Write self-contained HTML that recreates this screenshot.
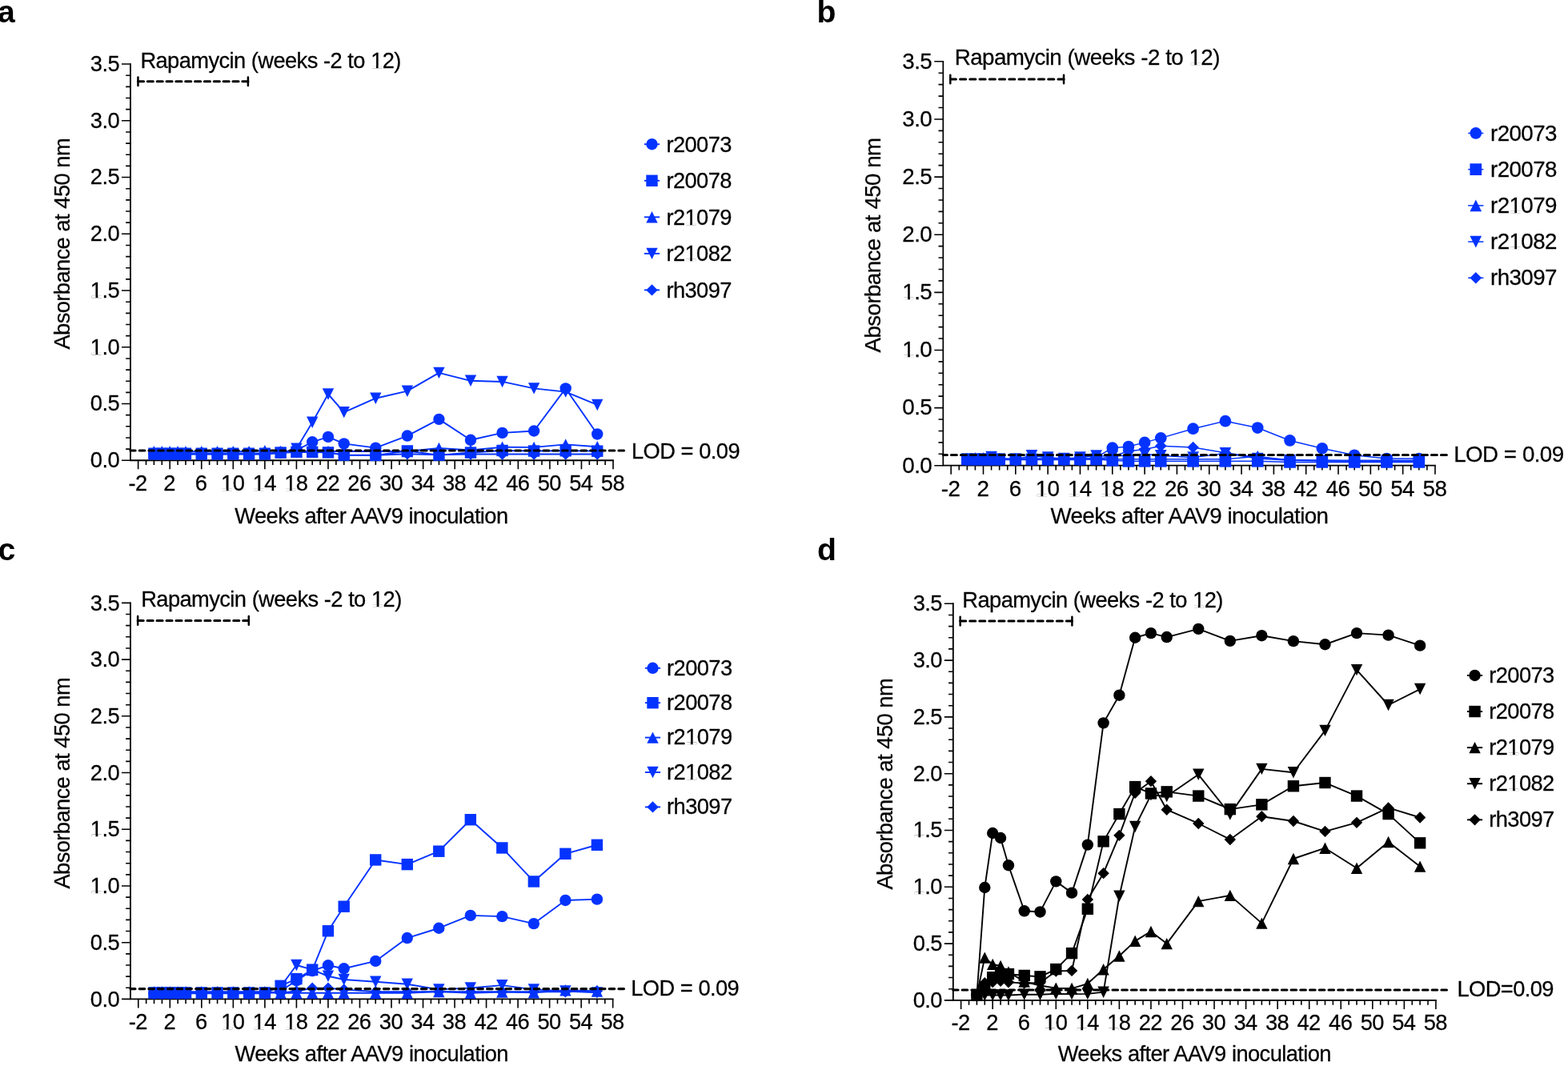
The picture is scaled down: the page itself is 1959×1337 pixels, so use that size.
<!DOCTYPE html>
<html><head><meta charset="utf-8"><title>Figure</title>
<style>
html,body{margin:0;padding:0;background:#fff;}
body{width:1959px;height:1337px;overflow:hidden;}
svg{display:block;position:absolute;left:0;top:0;}
text{font-family:"Liberation Sans",Arial,Helvetica,sans-serif;fill:#000;}
</style></head><body>
<svg xmlns="http://www.w3.org/2000/svg" width="1959" height="1337" viewBox="0 0 1959 1337">
<rect width="1959" height="1337" fill="#fff"/>
<g id="panel-a">
<text transform="translate(-3 27.8) scale(1.05)" font-size="37.33" font-weight="bold">a</text>
<path d="M162.97 80.05V575.27H766.02" fill="none" stroke="#000" stroke-width="1.85" stroke-linecap="square"/>
<path d="M162.97 575.27h-11M162.97 561.12h-5.8M162.97 546.97h-5.8M162.97 532.82h-5.8M162.97 518.67h-5.8M162.97 504.52h-11M162.97 490.38h-5.8M162.97 476.23h-5.8M162.97 462.08h-5.8M162.97 447.93h-5.8M162.97 433.78h-11M162.97 419.63h-5.8M162.97 405.48h-5.8M162.97 391.33h-5.8M162.97 377.18h-5.8M162.97 363.03h-11M162.97 348.89h-5.8M162.97 334.74h-5.8M162.97 320.59h-5.8M162.97 306.44h-5.8M162.97 292.29h-11M162.97 278.14h-5.8M162.97 263.99h-5.8M162.97 249.84h-5.8M162.97 235.69h-5.8M162.97 221.54h-11M162.97 207.4h-5.8M162.97 193.25h-5.8M162.97 179.1h-5.8M162.97 164.95h-5.8M162.97 150.8h-11M162.97 136.65h-5.8M162.97 122.5h-5.8M162.97 108.35h-5.8M162.97 94.2h-5.8M162.97 80.05h-11M172.62 575.27v11M182.51 575.27v5.8M192.4 575.27v5.8M202.29 575.27v5.8M212.18 575.27v11M222.07 575.27v5.8M231.96 575.27v5.8M241.85 575.27v5.8M251.74 575.27v11M261.63 575.27v5.8M271.52 575.27v5.8M281.41 575.27v5.8M291.3 575.27v11M301.19 575.27v5.8M311.08 575.27v5.8M320.97 575.27v5.8M330.86 575.27v11M340.75 575.27v5.8M350.64 575.27v5.8M360.53 575.27v5.8M370.42 575.27v11M380.31 575.27v5.8M390.2 575.27v5.8M400.09 575.27v5.8M409.98 575.27v11M419.87 575.27v5.8M429.76 575.27v5.8M439.65 575.27v5.8M449.54 575.27v11M459.43 575.27v5.8M469.32 575.27v5.8M479.21 575.27v5.8M489.1 575.27v11M498.99 575.27v5.8M508.88 575.27v5.8M518.77 575.27v5.8M528.66 575.27v11M538.55 575.27v5.8M548.44 575.27v5.8M558.33 575.27v5.8M568.22 575.27v11M578.11 575.27v5.8M588 575.27v5.8M597.89 575.27v5.8M607.78 575.27v11M617.67 575.27v5.8M627.56 575.27v5.8M637.45 575.27v5.8M647.34 575.27v11M657.23 575.27v5.8M667.12 575.27v5.8M677.01 575.27v5.8M686.9 575.27v11M696.79 575.27v5.8M706.68 575.27v5.8M716.57 575.27v5.8M726.46 575.27v11M736.35 575.27v5.8M746.24 575.27v5.8M756.13 575.27v5.8M766.02 575.27v11" fill="none" stroke="#000" stroke-width="1.6"/>
<polyline fill="none" stroke="#0433FF" stroke-width="1.9" stroke-linejoin="round" points="192.4,567.49 202.29,567.49 212.18,567.49 222.07,567.49 231.96,567.49 251.74,567.49 271.52,567.49 291.3,567.49 311.08,567.49 330.86,567.49 350.64,565.65 370.42,565.08 390.2,565.08 409.98,565.37 429.76,568.48 469.32,568.76 508.88,567.21 548.44,568.2 588,567.49 627.56,567.49 667.12,567.49 706.68,567.49 746.24,567.49"/>
<polygon points="192.4,560.29 199.6,567.49 192.4,574.69 185.2,567.49" fill="#0433FF"/>
<polygon points="202.29,560.29 209.49,567.49 202.29,574.69 195.09,567.49" fill="#0433FF"/>
<polygon points="212.18,560.29 219.38,567.49 212.18,574.69 204.98,567.49" fill="#0433FF"/>
<polygon points="222.07,560.29 229.27,567.49 222.07,574.69 214.87,567.49" fill="#0433FF"/>
<polygon points="231.96,560.29 239.16,567.49 231.96,574.69 224.76,567.49" fill="#0433FF"/>
<polygon points="251.74,560.29 258.94,567.49 251.74,574.69 244.54,567.49" fill="#0433FF"/>
<polygon points="271.52,560.29 278.72,567.49 271.52,574.69 264.32,567.49" fill="#0433FF"/>
<polygon points="291.3,560.29 298.5,567.49 291.3,574.69 284.1,567.49" fill="#0433FF"/>
<polygon points="311.08,560.29 318.28,567.49 311.08,574.69 303.88,567.49" fill="#0433FF"/>
<polygon points="330.86,560.29 338.06,567.49 330.86,574.69 323.66,567.49" fill="#0433FF"/>
<polygon points="350.64,558.45 357.84,565.65 350.64,572.85 343.44,565.65" fill="#0433FF"/>
<polygon points="370.42,557.88 377.62,565.08 370.42,572.28 363.22,565.08" fill="#0433FF"/>
<polygon points="390.2,557.88 397.4,565.08 390.2,572.28 383,565.08" fill="#0433FF"/>
<polygon points="409.98,558.17 417.18,565.37 409.98,572.57 402.78,565.37" fill="#0433FF"/>
<polygon points="429.76,561.28 436.96,568.48 429.76,575.68 422.56,568.48" fill="#0433FF"/>
<polygon points="469.32,561.56 476.52,568.76 469.32,575.96 462.12,568.76" fill="#0433FF"/>
<polygon points="508.88,560.01 516.08,567.21 508.88,574.41 501.68,567.21" fill="#0433FF"/>
<polygon points="548.44,561 555.64,568.2 548.44,575.4 541.24,568.2" fill="#0433FF"/>
<polygon points="588,560.29 595.2,567.49 588,574.69 580.8,567.49" fill="#0433FF"/>
<polygon points="627.56,560.29 634.76,567.49 627.56,574.69 620.36,567.49" fill="#0433FF"/>
<polygon points="667.12,560.29 674.32,567.49 667.12,574.69 659.92,567.49" fill="#0433FF"/>
<polygon points="706.68,560.29 713.88,567.49 706.68,574.69 699.48,567.49" fill="#0433FF"/>
<polygon points="746.24,560.29 753.44,567.49 746.24,574.69 739.04,567.49" fill="#0433FF"/>
<polyline fill="none" stroke="#0433FF" stroke-width="1.9" stroke-linejoin="round" points="192.4,566.78 202.29,566.78 212.18,566.78 222.07,566.78 231.96,566.78 251.74,566.78 271.52,566.78 291.3,566.78 311.08,566.78 330.86,566.78 350.64,566.07 370.42,560.63 390.2,527.8 409.98,492.5 429.76,515.14 469.32,497.73 508.88,488.68 548.44,465.9 588,475.8 627.56,476.93 667.12,485.42 706.68,489.67 746.24,505.94"/>
<polygon points="192.4,573.98 199.6,559.58 185.2,559.58" fill="#0433FF"/>
<polygon points="202.29,573.98 209.49,559.58 195.09,559.58" fill="#0433FF"/>
<polygon points="212.18,573.98 219.38,559.58 204.98,559.58" fill="#0433FF"/>
<polygon points="222.07,573.98 229.27,559.58 214.87,559.58" fill="#0433FF"/>
<polygon points="231.96,573.98 239.16,559.58 224.76,559.58" fill="#0433FF"/>
<polygon points="251.74,573.98 258.94,559.58 244.54,559.58" fill="#0433FF"/>
<polygon points="271.52,573.98 278.72,559.58 264.32,559.58" fill="#0433FF"/>
<polygon points="291.3,573.98 298.5,559.58 284.1,559.58" fill="#0433FF"/>
<polygon points="311.08,573.98 318.28,559.58 303.88,559.58" fill="#0433FF"/>
<polygon points="330.86,573.98 338.06,559.58 323.66,559.58" fill="#0433FF"/>
<polygon points="350.64,573.27 357.84,558.87 343.44,558.87" fill="#0433FF"/>
<polygon points="370.42,567.83 377.62,553.43 363.22,553.43" fill="#0433FF"/>
<polygon points="390.2,535 397.4,520.6 383,520.6" fill="#0433FF"/>
<polygon points="409.98,499.7 417.18,485.3 402.78,485.3" fill="#0433FF"/>
<polygon points="429.76,522.34 436.96,507.94 422.56,507.94" fill="#0433FF"/>
<polygon points="469.32,504.93 476.52,490.53 462.12,490.53" fill="#0433FF"/>
<polygon points="508.88,495.88 516.08,481.48 501.68,481.48" fill="#0433FF"/>
<polygon points="548.44,473.1 555.64,458.7 541.24,458.7" fill="#0433FF"/>
<polygon points="588,483 595.2,468.6 580.8,468.6" fill="#0433FF"/>
<polygon points="627.56,484.13 634.76,469.73 620.36,469.73" fill="#0433FF"/>
<polygon points="667.12,492.62 674.32,478.22 659.92,478.22" fill="#0433FF"/>
<polygon points="706.68,496.87 713.88,482.47 699.48,482.47" fill="#0433FF"/>
<polygon points="746.24,513.14 753.44,498.74 739.04,498.74" fill="#0433FF"/>
<polyline fill="none" stroke="#0433FF" stroke-width="1.9" stroke-linejoin="round" points="192.4,564.3 202.29,564.3 212.18,564.3 222.07,564.3 231.96,564.3 251.74,564.3 271.52,564.3 291.3,564.3 311.08,564.3 330.86,563.1 350.64,563.95 370.42,563.95 390.2,563.95 409.98,563.95 429.76,563.95 469.32,563.95 508.88,563.95 548.44,559.99 588,562.54 627.56,558.8 667.12,558.86 706.68,555.39 746.24,558.19"/>
<polygon points="192.4,557.1 199.6,571.5 185.2,571.5" fill="#0433FF"/>
<polygon points="202.29,557.1 209.49,571.5 195.09,571.5" fill="#0433FF"/>
<polygon points="212.18,557.1 219.38,571.5 204.98,571.5" fill="#0433FF"/>
<polygon points="222.07,557.1 229.27,571.5 214.87,571.5" fill="#0433FF"/>
<polygon points="231.96,557.1 239.16,571.5 224.76,571.5" fill="#0433FF"/>
<polygon points="251.74,557.1 258.94,571.5 244.54,571.5" fill="#0433FF"/>
<polygon points="271.52,557.1 278.72,571.5 264.32,571.5" fill="#0433FF"/>
<polygon points="291.3,557.1 298.5,571.5 284.1,571.5" fill="#0433FF"/>
<polygon points="311.08,557.1 318.28,571.5 303.88,571.5" fill="#0433FF"/>
<polygon points="330.86,555.9 338.06,570.3 323.66,570.3" fill="#0433FF"/>
<polygon points="350.64,556.75 357.84,571.15 343.44,571.15" fill="#0433FF"/>
<polygon points="370.42,556.75 377.62,571.15 363.22,571.15" fill="#0433FF"/>
<polygon points="390.2,556.75 397.4,571.15 383,571.15" fill="#0433FF"/>
<polygon points="409.98,556.75 417.18,571.15 402.78,571.15" fill="#0433FF"/>
<polygon points="429.76,556.75 436.96,571.15 422.56,571.15" fill="#0433FF"/>
<polygon points="469.32,556.75 476.52,571.15 462.12,571.15" fill="#0433FF"/>
<polygon points="508.88,556.75 516.08,571.15 501.68,571.15" fill="#0433FF"/>
<polygon points="548.44,552.79 555.64,567.19 541.24,567.19" fill="#0433FF"/>
<polygon points="588,555.34 595.2,569.74 580.8,569.74" fill="#0433FF"/>
<polygon points="627.56,551.6 634.76,566 620.36,566" fill="#0433FF"/>
<polygon points="667.12,551.66 674.32,566.06 659.92,566.06" fill="#0433FF"/>
<polygon points="706.68,548.19 713.88,562.59 699.48,562.59" fill="#0433FF"/>
<polygon points="746.24,550.99 753.44,565.39 739.04,565.39" fill="#0433FF"/>
<polyline fill="none" stroke="#0433FF" stroke-width="1.9" stroke-linejoin="round" points="192.4,567.4 202.29,567.4 212.18,567.4 222.07,567.4 231.96,567.4 251.74,567.4 271.52,567.4 291.3,567.4 311.08,567.4 330.86,567.4 350.64,565.65 370.42,564.73 390.2,564.8 409.98,565.37 429.76,568.62 469.32,568.9 508.88,563.46 548.44,568.62 588,565.51 627.56,562.96 667.12,563.53 706.68,563.24 746.24,563.67"/>
<rect x="185.2" y="560.2" width="14.4" height="14.4" fill="#0433FF"/>
<rect x="195.09" y="560.2" width="14.4" height="14.4" fill="#0433FF"/>
<rect x="204.98" y="560.2" width="14.4" height="14.4" fill="#0433FF"/>
<rect x="214.87" y="560.2" width="14.4" height="14.4" fill="#0433FF"/>
<rect x="224.76" y="560.2" width="14.4" height="14.4" fill="#0433FF"/>
<rect x="244.54" y="560.2" width="14.4" height="14.4" fill="#0433FF"/>
<rect x="264.32" y="560.2" width="14.4" height="14.4" fill="#0433FF"/>
<rect x="284.1" y="560.2" width="14.4" height="14.4" fill="#0433FF"/>
<rect x="303.88" y="560.2" width="14.4" height="14.4" fill="#0433FF"/>
<rect x="323.66" y="560.2" width="14.4" height="14.4" fill="#0433FF"/>
<rect x="343.44" y="558.45" width="14.4" height="14.4" fill="#0433FF"/>
<rect x="363.22" y="557.53" width="14.4" height="14.4" fill="#0433FF"/>
<rect x="383" y="557.6" width="14.4" height="14.4" fill="#0433FF"/>
<rect x="402.78" y="558.17" width="14.4" height="14.4" fill="#0433FF"/>
<rect x="422.56" y="561.42" width="14.4" height="14.4" fill="#0433FF"/>
<rect x="462.12" y="561.7" width="14.4" height="14.4" fill="#0433FF"/>
<rect x="501.68" y="556.26" width="14.4" height="14.4" fill="#0433FF"/>
<rect x="541.24" y="561.42" width="14.4" height="14.4" fill="#0433FF"/>
<rect x="580.8" y="558.31" width="14.4" height="14.4" fill="#0433FF"/>
<rect x="620.36" y="555.76" width="14.4" height="14.4" fill="#0433FF"/>
<rect x="659.92" y="556.33" width="14.4" height="14.4" fill="#0433FF"/>
<rect x="699.48" y="556.04" width="14.4" height="14.4" fill="#0433FF"/>
<rect x="739.04" y="556.47" width="14.4" height="14.4" fill="#0433FF"/>
<polyline fill="none" stroke="#0433FF" stroke-width="1.9" stroke-linejoin="round" points="192.4,566.78 202.29,566.78 212.18,566.78 222.07,566.78 231.96,566.78 251.74,566.78 271.52,566.78 291.3,566.78 311.08,566.78 330.86,566.78 350.64,565.37 370.42,562.54 390.2,552.28 409.98,545.9 429.76,554.33 469.32,559.61 508.88,544.57 548.44,523.84 588,549.8 627.56,540.89 667.12,538.48 706.68,485.42 746.24,542.44"/>
<circle cx="192.4" cy="566.78" r="7.2" fill="#0433FF"/>
<circle cx="202.29" cy="566.78" r="7.2" fill="#0433FF"/>
<circle cx="212.18" cy="566.78" r="7.2" fill="#0433FF"/>
<circle cx="222.07" cy="566.78" r="7.2" fill="#0433FF"/>
<circle cx="231.96" cy="566.78" r="7.2" fill="#0433FF"/>
<circle cx="251.74" cy="566.78" r="7.2" fill="#0433FF"/>
<circle cx="271.52" cy="566.78" r="7.2" fill="#0433FF"/>
<circle cx="291.3" cy="566.78" r="7.2" fill="#0433FF"/>
<circle cx="311.08" cy="566.78" r="7.2" fill="#0433FF"/>
<circle cx="330.86" cy="566.78" r="7.2" fill="#0433FF"/>
<circle cx="350.64" cy="565.37" r="7.2" fill="#0433FF"/>
<circle cx="370.42" cy="562.54" r="7.2" fill="#0433FF"/>
<circle cx="390.2" cy="552.28" r="7.2" fill="#0433FF"/>
<circle cx="409.98" cy="545.9" r="7.2" fill="#0433FF"/>
<circle cx="429.76" cy="554.33" r="7.2" fill="#0433FF"/>
<circle cx="469.32" cy="559.61" r="7.2" fill="#0433FF"/>
<circle cx="508.88" cy="544.57" r="7.2" fill="#0433FF"/>
<circle cx="548.44" cy="523.84" r="7.2" fill="#0433FF"/>
<circle cx="588" cy="549.8" r="7.2" fill="#0433FF"/>
<circle cx="627.56" cy="540.89" r="7.2" fill="#0433FF"/>
<circle cx="667.12" cy="538.48" r="7.2" fill="#0433FF"/>
<circle cx="706.68" cy="485.42" r="7.2" fill="#0433FF"/>
<circle cx="746.24" cy="542.44" r="7.2" fill="#0433FF"/>
<text transform="translate(148.4 584.07) scale(1.05 1.05)" text-anchor="end" dx="0.57" font-size="26" letter-spacing="-0.571" word-spacing="0.286" stroke="#000" stroke-width="0.24">0.0</text>
<text transform="translate(148.4 513.32) scale(1.05 1.05)" text-anchor="end" dx="0.57" font-size="26" letter-spacing="-0.571" word-spacing="0.286" stroke="#000" stroke-width="0.24">0.5</text>
<text transform="translate(148.4 442.58) scale(1.05 1.05)" text-anchor="end" dx="0.57" font-size="26" letter-spacing="-0.571" word-spacing="0.286" stroke="#000" stroke-width="0.24">1.0</text>
<text transform="translate(148.4 371.83) scale(1.05 1.05)" text-anchor="end" dx="0.57" font-size="26" letter-spacing="-0.571" word-spacing="0.286" stroke="#000" stroke-width="0.24">1.5</text>
<text transform="translate(148.4 301.09) scale(1.05 1.05)" text-anchor="end" dx="0.57" font-size="26" letter-spacing="-0.571" word-spacing="0.286" stroke="#000" stroke-width="0.24">2.0</text>
<text transform="translate(148.4 230.34) scale(1.05 1.05)" text-anchor="end" dx="0.57" font-size="26" letter-spacing="-0.571" word-spacing="0.286" stroke="#000" stroke-width="0.24">2.5</text>
<text transform="translate(148.4 159.6) scale(1.05 1.05)" text-anchor="end" dx="0.57" font-size="26" letter-spacing="-0.571" word-spacing="0.286" stroke="#000" stroke-width="0.24">3.0</text>
<text transform="translate(148.4 88.85) scale(1.05 1.05)" text-anchor="end" dx="0.57" font-size="26" letter-spacing="-0.571" word-spacing="0.286" stroke="#000" stroke-width="0.24">3.5</text>
<text transform="translate(171.72 613) scale(1.05 1.05)" text-anchor="middle" dx="0.29" font-size="26" letter-spacing="-0.571" word-spacing="0.286" stroke="#000" stroke-width="0.24">-2</text>
<text transform="translate(211.28 613) scale(1.05 1.05)" text-anchor="middle" dx="0.29" font-size="26" letter-spacing="-0.571" word-spacing="0.286" stroke="#000" stroke-width="0.24">2</text>
<text transform="translate(250.84 613) scale(1.05 1.05)" text-anchor="middle" dx="0.29" font-size="26" letter-spacing="-0.571" word-spacing="0.286" stroke="#000" stroke-width="0.24">6</text>
<text transform="translate(290.4 613) scale(1.05 1.05)" text-anchor="middle" dx="0.29" font-size="26" letter-spacing="-0.571" word-spacing="0.286" stroke="#000" stroke-width="0.24">10</text>
<text transform="translate(329.96 613) scale(1.05 1.05)" text-anchor="middle" dx="0.29" font-size="26" letter-spacing="-0.571" word-spacing="0.286" stroke="#000" stroke-width="0.24">14</text>
<text transform="translate(369.52 613) scale(1.05 1.05)" text-anchor="middle" dx="0.29" font-size="26" letter-spacing="-0.571" word-spacing="0.286" stroke="#000" stroke-width="0.24">18</text>
<text transform="translate(409.08 613) scale(1.05 1.05)" text-anchor="middle" dx="0.29" font-size="26" letter-spacing="-0.571" word-spacing="0.286" stroke="#000" stroke-width="0.24">22</text>
<text transform="translate(448.64 613) scale(1.05 1.05)" text-anchor="middle" dx="0.29" font-size="26" letter-spacing="-0.571" word-spacing="0.286" stroke="#000" stroke-width="0.24">26</text>
<text transform="translate(488.2 613) scale(1.05 1.05)" text-anchor="middle" dx="0.29" font-size="26" letter-spacing="-0.571" word-spacing="0.286" stroke="#000" stroke-width="0.24">30</text>
<text transform="translate(527.76 613) scale(1.05 1.05)" text-anchor="middle" dx="0.29" font-size="26" letter-spacing="-0.571" word-spacing="0.286" stroke="#000" stroke-width="0.24">34</text>
<text transform="translate(567.32 613) scale(1.05 1.05)" text-anchor="middle" dx="0.29" font-size="26" letter-spacing="-0.571" word-spacing="0.286" stroke="#000" stroke-width="0.24">38</text>
<text transform="translate(606.88 613) scale(1.05 1.05)" text-anchor="middle" dx="0.29" font-size="26" letter-spacing="-0.571" word-spacing="0.286" stroke="#000" stroke-width="0.24">42</text>
<text transform="translate(646.44 613) scale(1.05 1.05)" text-anchor="middle" dx="0.29" font-size="26" letter-spacing="-0.571" word-spacing="0.286" stroke="#000" stroke-width="0.24">46</text>
<text transform="translate(686 613) scale(1.05 1.05)" text-anchor="middle" dx="0.29" font-size="26" letter-spacing="-0.571" word-spacing="0.286" stroke="#000" stroke-width="0.24">50</text>
<text transform="translate(725.56 613) scale(1.05 1.05)" text-anchor="middle" dx="0.29" font-size="26" letter-spacing="-0.571" word-spacing="0.286" stroke="#000" stroke-width="0.24">54</text>
<text transform="translate(765.12 613) scale(1.05 1.05)" text-anchor="middle" dx="0.29" font-size="26" letter-spacing="-0.571" word-spacing="0.286" stroke="#000" stroke-width="0.24">58</text>
<text transform="translate(463.6 653.6) scale(1.05 1.05)" text-anchor="middle" dx="0.29" font-size="26" letter-spacing="-0.571" word-spacing="0.286" stroke="#000" stroke-width="0.24">Weeks after AAV9 inoculation</text>
<text transform="translate(87.1 305) rotate(-90) scale(1.05 1.05)" text-anchor="middle" dx="0.29" font-size="26" letter-spacing="-0.571" word-spacing="0.286" stroke="#000" stroke-width="0.24">Absorbance at 450 nm</text>
<text transform="translate(175.4 84.75) scale(1.05 1.05)" font-size="26" letter-spacing="-0.571" word-spacing="0.286" stroke="#000" stroke-width="0.24">Rapamycin (weeks -2 to 12)</text>
<path d="M172.45 96.4v10.7M309.9 96.4v10.7" stroke="#000" stroke-width="2.5" stroke-linecap="round" fill="none"/>
<path d="M309.9 101.75H172.45" stroke="#000" stroke-width="3" stroke-linecap="round" stroke-dasharray="7.1 4.75" fill="none"/>
<path d="M779.5 563H162.97" stroke="#000" stroke-width="3.2" stroke-linecap="round" stroke-dasharray="6.5 5.24" fill="none"/>
<text transform="translate(789 572.5) scale(1.05 1.05)" font-size="26" letter-spacing="-0.571" word-spacing="0.286" stroke="#000" stroke-width="0.24">LOD = 0.09</text>
<path d="M804.9 180.2h19.2" stroke="#0433FF" stroke-width="1.9" fill="none"/>
<circle cx="814.5" cy="180.2" r="7.2" fill="#0433FF"/>
<text transform="translate(832.4 189.6) scale(1.05 1.05)" font-size="26" letter-spacing="-0.571" word-spacing="0.286" stroke="#000" stroke-width="0.24">r20073</text>
<path d="M804.9 225.75h19.2" stroke="#0433FF" stroke-width="1.9" fill="none"/>
<rect x="807.3" y="218.55" width="14.4" height="14.4" fill="#0433FF"/>
<text transform="translate(832.4 235.15) scale(1.05 1.05)" font-size="26" letter-spacing="-0.571" word-spacing="0.286" stroke="#000" stroke-width="0.24">r20078</text>
<path d="M804.9 271.3h19.2" stroke="#0433FF" stroke-width="1.9" fill="none"/>
<polygon points="814.5,264.1 821.7,278.5 807.3,278.5" fill="#0433FF"/>
<text transform="translate(832.4 280.7) scale(1.05 1.05)" font-size="26" letter-spacing="-0.571" word-spacing="0.286" stroke="#000" stroke-width="0.24">r21079</text>
<path d="M804.9 316.85h19.2" stroke="#0433FF" stroke-width="1.9" fill="none"/>
<polygon points="814.5,324.05 821.7,309.65 807.3,309.65" fill="#0433FF"/>
<text transform="translate(832.4 326.25) scale(1.05 1.05)" font-size="26" letter-spacing="-0.571" word-spacing="0.286" stroke="#000" stroke-width="0.24">r21082</text>
<path d="M804.9 362.4h19.2" stroke="#0433FF" stroke-width="1.9" fill="none"/>
<polygon points="814.5,355.2 821.7,362.4 814.5,369.6 807.3,362.4" fill="#0433FF"/>
<text transform="translate(832.4 371.8) scale(1.05 1.05)" font-size="26" letter-spacing="-0.571" word-spacing="0.286" stroke="#000" stroke-width="0.24">rh3097</text>
</g>
<g id="panel-b">
<text transform="translate(1020.4 27.6) scale(1.05)" font-size="37.33" font-weight="bold">b</text>
<path d="M1178.32 76.82V581.73H1792.98" fill="none" stroke="#000" stroke-width="1.75" stroke-linecap="square"/>
<path d="M1178.32 581.73h-11M1178.32 567.3h-5.8M1178.32 552.88h-5.8M1178.32 538.45h-5.8M1178.32 524.03h-5.8M1178.32 509.6h-11M1178.32 495.17h-5.8M1178.32 480.75h-5.8M1178.32 466.32h-5.8M1178.32 451.9h-5.8M1178.32 437.47h-11M1178.32 423.04h-5.8M1178.32 408.62h-5.8M1178.32 394.19h-5.8M1178.32 379.77h-5.8M1178.32 365.34h-11M1178.32 350.91h-5.8M1178.32 336.49h-5.8M1178.32 322.06h-5.8M1178.32 307.64h-5.8M1178.32 293.21h-11M1178.32 278.78h-5.8M1178.32 264.36h-5.8M1178.32 249.93h-5.8M1178.32 235.51h-5.8M1178.32 221.08h-11M1178.32 206.65h-5.8M1178.32 192.23h-5.8M1178.32 177.8h-5.8M1178.32 163.38h-5.8M1178.32 148.95h-11M1178.32 134.52h-5.8M1178.32 120.1h-5.8M1178.32 105.67h-5.8M1178.32 91.25h-5.8M1178.32 76.82h-11M1188.18 581.73v11M1198.26 581.73v5.8M1208.34 581.73v5.8M1218.42 581.73v5.8M1228.5 581.73v11M1238.58 581.73v5.8M1248.66 581.73v5.8M1258.74 581.73v5.8M1268.82 581.73v11M1278.9 581.73v5.8M1288.98 581.73v5.8M1299.06 581.73v5.8M1309.14 581.73v11M1319.22 581.73v5.8M1329.3 581.73v5.8M1339.38 581.73v5.8M1349.46 581.73v11M1359.54 581.73v5.8M1369.62 581.73v5.8M1379.7 581.73v5.8M1389.78 581.73v11M1399.86 581.73v5.8M1409.94 581.73v5.8M1420.02 581.73v5.8M1430.1 581.73v11M1440.18 581.73v5.8M1450.26 581.73v5.8M1460.34 581.73v5.8M1470.42 581.73v11M1480.5 581.73v5.8M1490.58 581.73v5.8M1500.66 581.73v5.8M1510.74 581.73v11M1520.82 581.73v5.8M1530.9 581.73v5.8M1540.98 581.73v5.8M1551.06 581.73v11M1561.14 581.73v5.8M1571.22 581.73v5.8M1581.3 581.73v5.8M1591.38 581.73v11M1601.46 581.73v5.8M1611.54 581.73v5.8M1621.62 581.73v5.8M1631.7 581.73v11M1641.78 581.73v5.8M1651.86 581.73v5.8M1661.94 581.73v5.8M1672.02 581.73v11M1682.1 581.73v5.8M1692.18 581.73v5.8M1702.26 581.73v5.8M1712.34 581.73v11M1722.42 581.73v5.8M1732.5 581.73v5.8M1742.58 581.73v5.8M1752.66 581.73v11M1762.74 581.73v5.8M1772.82 581.73v5.8M1782.9 581.73v5.8M1792.98 581.73v11" fill="none" stroke="#000" stroke-width="1.6"/>
<polyline fill="none" stroke="#0433FF" stroke-width="1.5" stroke-linejoin="round" points="1208.34,573.8 1218.42,573.8 1228.5,573.8 1238.58,573.8 1248.66,573.8 1268.82,573.8 1288.98,573.8 1309.14,573.8 1329.3,573.8 1349.46,573.8 1369.62,573.8 1389.78,570.19 1409.94,563.7 1430.1,561.53 1450.26,557.21 1490.58,559.01 1530.9,565.86 1571.22,571.63 1611.54,574.52 1651.86,575.24 1692.18,575.96 1732.5,575.96 1772.82,575.96"/>
<polygon points="1208.34,566.45 1215.69,573.8 1208.34,581.15 1200.99,573.8" fill="#0433FF"/>
<polygon points="1218.42,566.45 1225.77,573.8 1218.42,581.15 1211.07,573.8" fill="#0433FF"/>
<polygon points="1228.5,566.45 1235.85,573.8 1228.5,581.15 1221.15,573.8" fill="#0433FF"/>
<polygon points="1238.58,566.45 1245.93,573.8 1238.58,581.15 1231.23,573.8" fill="#0433FF"/>
<polygon points="1248.66,566.45 1256.01,573.8 1248.66,581.15 1241.31,573.8" fill="#0433FF"/>
<polygon points="1268.82,566.45 1276.17,573.8 1268.82,581.15 1261.47,573.8" fill="#0433FF"/>
<polygon points="1288.98,566.45 1296.33,573.8 1288.98,581.15 1281.63,573.8" fill="#0433FF"/>
<polygon points="1309.14,566.45 1316.49,573.8 1309.14,581.15 1301.79,573.8" fill="#0433FF"/>
<polygon points="1329.3,566.45 1336.65,573.8 1329.3,581.15 1321.95,573.8" fill="#0433FF"/>
<polygon points="1349.46,566.45 1356.81,573.8 1349.46,581.15 1342.11,573.8" fill="#0433FF"/>
<polygon points="1369.62,566.45 1376.97,573.8 1369.62,581.15 1362.27,573.8" fill="#0433FF"/>
<polygon points="1389.78,562.84 1397.13,570.19 1389.78,577.54 1382.43,570.19" fill="#0433FF"/>
<polygon points="1409.94,556.35 1417.29,563.7 1409.94,571.05 1402.59,563.7" fill="#0433FF"/>
<polygon points="1430.1,554.18 1437.45,561.53 1430.1,568.88 1422.75,561.53" fill="#0433FF"/>
<polygon points="1450.26,549.86 1457.61,557.21 1450.26,564.56 1442.91,557.21" fill="#0433FF"/>
<polygon points="1490.58,551.66 1497.93,559.01 1490.58,566.36 1483.23,559.01" fill="#0433FF"/>
<polygon points="1530.9,558.51 1538.25,565.86 1530.9,573.21 1523.55,565.86" fill="#0433FF"/>
<polygon points="1571.22,564.28 1578.57,571.63 1571.22,578.98 1563.87,571.63" fill="#0433FF"/>
<polygon points="1611.54,567.17 1618.89,574.52 1611.54,581.87 1604.19,574.52" fill="#0433FF"/>
<polygon points="1651.86,567.89 1659.21,575.24 1651.86,582.59 1644.51,575.24" fill="#0433FF"/>
<polygon points="1692.18,568.61 1699.53,575.96 1692.18,583.31 1684.83,575.96" fill="#0433FF"/>
<polygon points="1732.5,568.61 1739.85,575.96 1732.5,583.31 1725.15,575.96" fill="#0433FF"/>
<polygon points="1772.82,568.61 1780.17,575.96 1772.82,583.31 1765.47,575.96" fill="#0433FF"/>
<polyline fill="none" stroke="#0433FF" stroke-width="1.5" stroke-linejoin="round" points="1208.34,573.8 1218.42,573.8 1228.5,573.8 1238.58,571.2 1248.66,573.8 1268.82,573.8 1288.98,569.4 1309.14,571.63 1329.3,573.07 1349.46,571.63 1369.62,569.61 1389.78,570.19 1409.94,568.75 1430.1,567.3 1450.26,569.32 1490.58,571.63 1530.9,566.29 1571.22,573.07 1611.54,575.24 1651.86,575.96 1692.18,575.96 1732.5,575.96 1772.82,575.96"/>
<polygon points="1208.34,581.15 1215.69,566.45 1200.99,566.45" fill="#0433FF"/>
<polygon points="1218.42,581.15 1225.77,566.45 1211.07,566.45" fill="#0433FF"/>
<polygon points="1228.5,581.15 1235.85,566.45 1221.15,566.45" fill="#0433FF"/>
<polygon points="1238.58,578.55 1245.93,563.85 1231.23,563.85" fill="#0433FF"/>
<polygon points="1248.66,581.15 1256.01,566.45 1241.31,566.45" fill="#0433FF"/>
<polygon points="1268.82,581.15 1276.17,566.45 1261.47,566.45" fill="#0433FF"/>
<polygon points="1288.98,576.75 1296.33,562.05 1281.63,562.05" fill="#0433FF"/>
<polygon points="1309.14,578.98 1316.49,564.28 1301.79,564.28" fill="#0433FF"/>
<polygon points="1329.3,580.42 1336.65,565.72 1321.95,565.72" fill="#0433FF"/>
<polygon points="1349.46,578.98 1356.81,564.28 1342.11,564.28" fill="#0433FF"/>
<polygon points="1369.62,576.96 1376.97,562.26 1362.27,562.26" fill="#0433FF"/>
<polygon points="1389.78,577.54 1397.13,562.84 1382.43,562.84" fill="#0433FF"/>
<polygon points="1409.94,576.1 1417.29,561.4 1402.59,561.4" fill="#0433FF"/>
<polygon points="1430.1,574.65 1437.45,559.95 1422.75,559.95" fill="#0433FF"/>
<polygon points="1450.26,576.67 1457.61,561.97 1442.91,561.97" fill="#0433FF"/>
<polygon points="1490.58,578.98 1497.93,564.28 1483.23,564.28" fill="#0433FF"/>
<polygon points="1530.9,573.64 1538.25,558.94 1523.55,558.94" fill="#0433FF"/>
<polygon points="1571.22,580.42 1578.57,565.72 1563.87,565.72" fill="#0433FF"/>
<polygon points="1611.54,582.59 1618.89,567.89 1604.19,567.89" fill="#0433FF"/>
<polygon points="1651.86,583.31 1659.21,568.61 1644.51,568.61" fill="#0433FF"/>
<polygon points="1692.18,583.31 1699.53,568.61 1684.83,568.61" fill="#0433FF"/>
<polygon points="1732.5,583.31 1739.85,568.61 1725.15,568.61" fill="#0433FF"/>
<polygon points="1772.82,583.31 1780.17,568.61 1765.47,568.61" fill="#0433FF"/>
<polyline fill="none" stroke="#0433FF" stroke-width="1.5" stroke-linejoin="round" points="1208.34,573.07 1218.42,572.35 1228.5,572.35 1238.58,573.07 1248.66,573.07 1268.82,573.07 1288.98,573.07 1309.14,573.07 1329.3,573.07 1349.46,573.07 1369.62,573.07 1389.78,573.8 1409.94,573.8 1430.1,573.8 1450.26,573.8 1490.58,573.8 1530.9,573.8 1571.22,570.19 1611.54,575.24 1651.86,575.24 1692.18,575.24 1732.5,575.24 1772.82,575.24"/>
<polygon points="1208.34,565.72 1215.69,580.42 1200.99,580.42" fill="#0433FF"/>
<polygon points="1218.42,565 1225.77,579.7 1211.07,579.7" fill="#0433FF"/>
<polygon points="1228.5,565 1235.85,579.7 1221.15,579.7" fill="#0433FF"/>
<polygon points="1238.58,565.72 1245.93,580.42 1231.23,580.42" fill="#0433FF"/>
<polygon points="1248.66,565.72 1256.01,580.42 1241.31,580.42" fill="#0433FF"/>
<polygon points="1268.82,565.72 1276.17,580.42 1261.47,580.42" fill="#0433FF"/>
<polygon points="1288.98,565.72 1296.33,580.42 1281.63,580.42" fill="#0433FF"/>
<polygon points="1309.14,565.72 1316.49,580.42 1301.79,580.42" fill="#0433FF"/>
<polygon points="1329.3,565.72 1336.65,580.42 1321.95,580.42" fill="#0433FF"/>
<polygon points="1349.46,565.72 1356.81,580.42 1342.11,580.42" fill="#0433FF"/>
<polygon points="1369.62,565.72 1376.97,580.42 1362.27,580.42" fill="#0433FF"/>
<polygon points="1389.78,566.45 1397.13,581.15 1382.43,581.15" fill="#0433FF"/>
<polygon points="1409.94,566.45 1417.29,581.15 1402.59,581.15" fill="#0433FF"/>
<polygon points="1430.1,566.45 1437.45,581.15 1422.75,581.15" fill="#0433FF"/>
<polygon points="1450.26,566.45 1457.61,581.15 1442.91,581.15" fill="#0433FF"/>
<polygon points="1490.58,566.45 1497.93,581.15 1483.23,581.15" fill="#0433FF"/>
<polygon points="1530.9,566.45 1538.25,581.15 1523.55,581.15" fill="#0433FF"/>
<polygon points="1571.22,562.84 1578.57,577.54 1563.87,577.54" fill="#0433FF"/>
<polygon points="1611.54,567.89 1618.89,582.59 1604.19,582.59" fill="#0433FF"/>
<polygon points="1651.86,567.89 1659.21,582.59 1644.51,582.59" fill="#0433FF"/>
<polygon points="1692.18,567.89 1699.53,582.59 1684.83,582.59" fill="#0433FF"/>
<polygon points="1732.5,567.89 1739.85,582.59 1725.15,582.59" fill="#0433FF"/>
<polygon points="1772.82,567.89 1780.17,582.59 1765.47,582.59" fill="#0433FF"/>
<polyline fill="none" stroke="#0433FF" stroke-width="1.5" stroke-linejoin="round" points="1208.34,573.94 1218.42,573.94 1228.5,573.94 1238.58,573.94 1248.66,573.94 1268.82,573.94 1288.98,573.94 1309.14,573.94 1329.3,573.94 1349.46,573.94 1369.62,573.94 1389.78,575.24 1409.94,576.25 1430.1,576.25 1450.26,576.25 1490.58,576.25 1530.9,576.25 1571.22,576.25 1611.54,577.4 1651.86,577.4 1692.18,577.4 1732.5,577.4 1772.82,577.4"/>
<rect x="1200.99" y="566.59" width="14.7" height="14.7" fill="#0433FF"/>
<rect x="1211.07" y="566.59" width="14.7" height="14.7" fill="#0433FF"/>
<rect x="1221.15" y="566.59" width="14.7" height="14.7" fill="#0433FF"/>
<rect x="1231.23" y="566.59" width="14.7" height="14.7" fill="#0433FF"/>
<rect x="1241.31" y="566.59" width="14.7" height="14.7" fill="#0433FF"/>
<rect x="1261.47" y="566.59" width="14.7" height="14.7" fill="#0433FF"/>
<rect x="1281.63" y="566.59" width="14.7" height="14.7" fill="#0433FF"/>
<rect x="1301.79" y="566.59" width="14.7" height="14.7" fill="#0433FF"/>
<rect x="1321.95" y="566.59" width="14.7" height="14.7" fill="#0433FF"/>
<rect x="1342.11" y="566.59" width="14.7" height="14.7" fill="#0433FF"/>
<rect x="1362.27" y="566.59" width="14.7" height="14.7" fill="#0433FF"/>
<rect x="1382.43" y="567.89" width="14.7" height="14.7" fill="#0433FF"/>
<rect x="1402.59" y="568.9" width="14.7" height="14.7" fill="#0433FF"/>
<rect x="1422.75" y="568.9" width="14.7" height="14.7" fill="#0433FF"/>
<rect x="1442.91" y="568.9" width="14.7" height="14.7" fill="#0433FF"/>
<rect x="1483.23" y="568.9" width="14.7" height="14.7" fill="#0433FF"/>
<rect x="1523.55" y="568.9" width="14.7" height="14.7" fill="#0433FF"/>
<rect x="1563.87" y="568.9" width="14.7" height="14.7" fill="#0433FF"/>
<rect x="1604.19" y="570.05" width="14.7" height="14.7" fill="#0433FF"/>
<rect x="1644.51" y="570.05" width="14.7" height="14.7" fill="#0433FF"/>
<rect x="1684.83" y="570.05" width="14.7" height="14.7" fill="#0433FF"/>
<rect x="1725.15" y="570.05" width="14.7" height="14.7" fill="#0433FF"/>
<rect x="1765.47" y="570.05" width="14.7" height="14.7" fill="#0433FF"/>
<polyline fill="none" stroke="#0433FF" stroke-width="1.5" stroke-linejoin="round" points="1208.34,574.52 1218.42,574.52 1228.5,574.52 1238.58,574.52 1248.66,574.52 1268.82,574.52 1288.98,574.52 1309.14,574.52 1329.3,574.52 1349.46,574.52 1369.62,571.63 1389.78,559.66 1409.94,558.07 1430.1,552.88 1450.26,547.4 1490.58,535.71 1530.9,526.19 1571.22,534.56 1611.54,550.43 1651.86,560.24 1692.18,568.75 1732.5,573.07 1772.82,573.07"/>
<circle cx="1208.34" cy="574.52" r="7.35" fill="#0433FF"/>
<circle cx="1218.42" cy="574.52" r="7.35" fill="#0433FF"/>
<circle cx="1228.5" cy="574.52" r="7.35" fill="#0433FF"/>
<circle cx="1238.58" cy="574.52" r="7.35" fill="#0433FF"/>
<circle cx="1248.66" cy="574.52" r="7.35" fill="#0433FF"/>
<circle cx="1268.82" cy="574.52" r="7.35" fill="#0433FF"/>
<circle cx="1288.98" cy="574.52" r="7.35" fill="#0433FF"/>
<circle cx="1309.14" cy="574.52" r="7.35" fill="#0433FF"/>
<circle cx="1329.3" cy="574.52" r="7.35" fill="#0433FF"/>
<circle cx="1349.46" cy="574.52" r="7.35" fill="#0433FF"/>
<circle cx="1369.62" cy="571.63" r="7.35" fill="#0433FF"/>
<circle cx="1389.78" cy="559.66" r="7.35" fill="#0433FF"/>
<circle cx="1409.94" cy="558.07" r="7.35" fill="#0433FF"/>
<circle cx="1430.1" cy="552.88" r="7.35" fill="#0433FF"/>
<circle cx="1450.26" cy="547.4" r="7.35" fill="#0433FF"/>
<circle cx="1490.58" cy="535.71" r="7.35" fill="#0433FF"/>
<circle cx="1530.9" cy="526.19" r="7.35" fill="#0433FF"/>
<circle cx="1571.22" cy="534.56" r="7.35" fill="#0433FF"/>
<circle cx="1611.54" cy="550.43" r="7.35" fill="#0433FF"/>
<circle cx="1651.86" cy="560.24" r="7.35" fill="#0433FF"/>
<circle cx="1692.18" cy="568.75" r="7.35" fill="#0433FF"/>
<circle cx="1732.5" cy="573.07" r="7.35" fill="#0433FF"/>
<circle cx="1772.82" cy="573.07" r="7.35" fill="#0433FF"/>
<text transform="translate(1163.5 590.53) scale(1.05 1.05)" text-anchor="end" dx="0.58" font-size="26.45" letter-spacing="-0.581" word-spacing="0.291" stroke="#000" stroke-width="0.24">0.0</text>
<text transform="translate(1163.5 518.4) scale(1.05 1.05)" text-anchor="end" dx="0.58" font-size="26.45" letter-spacing="-0.581" word-spacing="0.291" stroke="#000" stroke-width="0.24">0.5</text>
<text transform="translate(1163.5 446.27) scale(1.05 1.05)" text-anchor="end" dx="0.58" font-size="26.45" letter-spacing="-0.581" word-spacing="0.291" stroke="#000" stroke-width="0.24">1.0</text>
<text transform="translate(1163.5 374.14) scale(1.05 1.05)" text-anchor="end" dx="0.58" font-size="26.45" letter-spacing="-0.581" word-spacing="0.291" stroke="#000" stroke-width="0.24">1.5</text>
<text transform="translate(1163.5 302.01) scale(1.05 1.05)" text-anchor="end" dx="0.58" font-size="26.45" letter-spacing="-0.581" word-spacing="0.291" stroke="#000" stroke-width="0.24">2.0</text>
<text transform="translate(1163.5 229.88) scale(1.05 1.05)" text-anchor="end" dx="0.58" font-size="26.45" letter-spacing="-0.581" word-spacing="0.291" stroke="#000" stroke-width="0.24">2.5</text>
<text transform="translate(1163.5 157.75) scale(1.05 1.05)" text-anchor="end" dx="0.58" font-size="26.45" letter-spacing="-0.581" word-spacing="0.291" stroke="#000" stroke-width="0.24">3.0</text>
<text transform="translate(1163.5 85.62) scale(1.05 1.05)" text-anchor="end" dx="0.58" font-size="26.45" letter-spacing="-0.581" word-spacing="0.291" stroke="#000" stroke-width="0.24">3.5</text>
<text transform="translate(1187.28 620) scale(1.05 1.05)" text-anchor="middle" dx="0.29" font-size="26.45" letter-spacing="-0.581" word-spacing="0.291" stroke="#000" stroke-width="0.24">-2</text>
<text transform="translate(1227.6 620) scale(1.05 1.05)" text-anchor="middle" dx="0.29" font-size="26.45" letter-spacing="-0.581" word-spacing="0.291" stroke="#000" stroke-width="0.24">2</text>
<text transform="translate(1267.92 620) scale(1.05 1.05)" text-anchor="middle" dx="0.29" font-size="26.45" letter-spacing="-0.581" word-spacing="0.291" stroke="#000" stroke-width="0.24">6</text>
<text transform="translate(1308.24 620) scale(1.05 1.05)" text-anchor="middle" dx="0.29" font-size="26.45" letter-spacing="-0.581" word-spacing="0.291" stroke="#000" stroke-width="0.24">10</text>
<text transform="translate(1348.56 620) scale(1.05 1.05)" text-anchor="middle" dx="0.29" font-size="26.45" letter-spacing="-0.581" word-spacing="0.291" stroke="#000" stroke-width="0.24">14</text>
<text transform="translate(1388.88 620) scale(1.05 1.05)" text-anchor="middle" dx="0.29" font-size="26.45" letter-spacing="-0.581" word-spacing="0.291" stroke="#000" stroke-width="0.24">18</text>
<text transform="translate(1429.2 620) scale(1.05 1.05)" text-anchor="middle" dx="0.29" font-size="26.45" letter-spacing="-0.581" word-spacing="0.291" stroke="#000" stroke-width="0.24">22</text>
<text transform="translate(1469.52 620) scale(1.05 1.05)" text-anchor="middle" dx="0.29" font-size="26.45" letter-spacing="-0.581" word-spacing="0.291" stroke="#000" stroke-width="0.24">26</text>
<text transform="translate(1509.84 620) scale(1.05 1.05)" text-anchor="middle" dx="0.29" font-size="26.45" letter-spacing="-0.581" word-spacing="0.291" stroke="#000" stroke-width="0.24">30</text>
<text transform="translate(1550.16 620) scale(1.05 1.05)" text-anchor="middle" dx="0.29" font-size="26.45" letter-spacing="-0.581" word-spacing="0.291" stroke="#000" stroke-width="0.24">34</text>
<text transform="translate(1590.48 620) scale(1.05 1.05)" text-anchor="middle" dx="0.29" font-size="26.45" letter-spacing="-0.581" word-spacing="0.291" stroke="#000" stroke-width="0.24">38</text>
<text transform="translate(1630.8 620) scale(1.05 1.05)" text-anchor="middle" dx="0.29" font-size="26.45" letter-spacing="-0.581" word-spacing="0.291" stroke="#000" stroke-width="0.24">42</text>
<text transform="translate(1671.12 620) scale(1.05 1.05)" text-anchor="middle" dx="0.29" font-size="26.45" letter-spacing="-0.581" word-spacing="0.291" stroke="#000" stroke-width="0.24">46</text>
<text transform="translate(1711.44 620) scale(1.05 1.05)" text-anchor="middle" dx="0.29" font-size="26.45" letter-spacing="-0.581" word-spacing="0.291" stroke="#000" stroke-width="0.24">50</text>
<text transform="translate(1751.76 620) scale(1.05 1.05)" text-anchor="middle" dx="0.29" font-size="26.45" letter-spacing="-0.581" word-spacing="0.291" stroke="#000" stroke-width="0.24">54</text>
<text transform="translate(1792.08 620) scale(1.05 1.05)" text-anchor="middle" dx="0.29" font-size="26.45" letter-spacing="-0.581" word-spacing="0.291" stroke="#000" stroke-width="0.24">58</text>
<text transform="translate(1485.6 653.6) scale(1.05 1.05)" text-anchor="middle" dx="0.29" font-size="26.45" letter-spacing="-0.581" word-spacing="0.291" stroke="#000" stroke-width="0.24">Weeks after AAV9 inoculation</text>
<text transform="translate(1100.4 306.7) rotate(-90) scale(1.05 1.05)" text-anchor="middle" dx="0.29" font-size="26.45" letter-spacing="-0.581" word-spacing="0.291" stroke="#000" stroke-width="0.24">Absorbance at 450 nm</text>
<text transform="translate(1192.8 81.05) scale(1.05 1.05)" font-size="26.45" letter-spacing="-0.581" word-spacing="0.291" stroke="#000" stroke-width="0.24">Rapamycin (weeks -2 to 12)</text>
<path d="M1187.3 93.65v10.7M1329.05 93.65v10.7" stroke="#000" stroke-width="2.5" stroke-linecap="round" fill="none"/>
<path d="M1329.05 99H1187.3" stroke="#000" stroke-width="3" stroke-linecap="round" stroke-dasharray="7.1 5.14" fill="none"/>
<path d="M1807.35 568.56H1178.32" stroke="#000" stroke-width="3.1" stroke-linecap="round" stroke-dasharray="6.9 5.1" fill="none"/>
<text transform="translate(1816.2 577.15) scale(1.05 1.05)" font-size="26.45" letter-spacing="-0.581" word-spacing="0.291" stroke="#000" stroke-width="0.24">LOD = 0.09</text>
<path d="M1834.2 166.45h19.2" stroke="#0433FF" stroke-width="1.5" fill="none"/>
<circle cx="1843.8" cy="166.45" r="7.35" fill="#0433FF"/>
<text transform="translate(1862 175.6) scale(1.05 1.05)" font-size="26.45" letter-spacing="-0.581" word-spacing="0.291" stroke="#000" stroke-width="0.24">r20073</text>
<path d="M1834.2 211.65h19.2" stroke="#0433FF" stroke-width="1.5" fill="none"/>
<rect x="1836.45" y="204.3" width="14.7" height="14.7" fill="#0433FF"/>
<text transform="translate(1862 220.8) scale(1.05 1.05)" font-size="26.45" letter-spacing="-0.581" word-spacing="0.291" stroke="#000" stroke-width="0.24">r20078</text>
<path d="M1834.2 256.85h19.2" stroke="#0433FF" stroke-width="1.5" fill="none"/>
<polygon points="1843.8,249.5 1851.15,264.2 1836.45,264.2" fill="#0433FF"/>
<text transform="translate(1862 266) scale(1.05 1.05)" font-size="26.45" letter-spacing="-0.581" word-spacing="0.291" stroke="#000" stroke-width="0.24">r21079</text>
<path d="M1834.2 302.05h19.2" stroke="#0433FF" stroke-width="1.5" fill="none"/>
<polygon points="1843.8,309.4 1851.15,294.7 1836.45,294.7" fill="#0433FF"/>
<text transform="translate(1862 311.2) scale(1.05 1.05)" font-size="26.45" letter-spacing="-0.581" word-spacing="0.291" stroke="#000" stroke-width="0.24">r21082</text>
<path d="M1834.2 347.25h19.2" stroke="#0433FF" stroke-width="1.5" fill="none"/>
<polygon points="1843.8,339.9 1851.15,347.25 1843.8,354.6 1836.45,347.25" fill="#0433FF"/>
<text transform="translate(1862 356.4) scale(1.05 1.05)" font-size="26.45" letter-spacing="-0.581" word-spacing="0.291" stroke="#000" stroke-width="0.24">rh3097</text>
</g>
<g id="panel-c">
<text transform="translate(-2.4 700) scale(1.05)" font-size="37.33" font-weight="bold">c</text>
<path d="M162.97 753.38V1248.42H765.69" fill="none" stroke="#000" stroke-width="1.85" stroke-linecap="square"/>
<path d="M162.97 1248.42h-11M162.97 1234.28h-5.8M162.97 1220.13h-5.8M162.97 1205.99h-5.8M162.97 1191.84h-5.8M162.97 1177.7h-11M162.97 1163.56h-5.8M162.97 1149.41h-5.8M162.97 1135.27h-5.8M162.97 1121.12h-5.8M162.97 1106.98h-11M162.97 1092.84h-5.8M162.97 1078.69h-5.8M162.97 1064.55h-5.8M162.97 1050.4h-5.8M162.97 1036.26h-11M162.97 1022.12h-5.8M162.97 1007.97h-5.8M162.97 993.83h-5.8M162.97 979.68h-5.8M162.97 965.54h-11M162.97 951.4h-5.8M162.97 937.25h-5.8M162.97 923.11h-5.8M162.97 908.96h-5.8M162.97 894.82h-11M162.97 880.68h-5.8M162.97 866.53h-5.8M162.97 852.39h-5.8M162.97 838.24h-5.8M162.97 824.1h-11M162.97 809.96h-5.8M162.97 795.81h-5.8M162.97 781.67h-5.8M162.97 767.52h-5.8M162.97 753.38h-11M172.77 1248.42v11M182.65 1248.42v5.8M192.53 1248.42v5.8M202.42 1248.42v5.8M212.3 1248.42v11M222.18 1248.42v5.8M232.06 1248.42v5.8M241.94 1248.42v5.8M251.83 1248.42v11M261.71 1248.42v5.8M271.59 1248.42v5.8M281.47 1248.42v5.8M291.35 1248.42v11M301.24 1248.42v5.8M311.12 1248.42v5.8M321 1248.42v5.8M330.88 1248.42v11M340.76 1248.42v5.8M350.65 1248.42v5.8M360.53 1248.42v5.8M370.41 1248.42v11M380.29 1248.42v5.8M390.17 1248.42v5.8M400.06 1248.42v5.8M409.94 1248.42v11M419.82 1248.42v5.8M429.7 1248.42v5.8M439.58 1248.42v5.8M449.47 1248.42v11M459.35 1248.42v5.8M469.23 1248.42v5.8M479.11 1248.42v5.8M488.99 1248.42v11M498.88 1248.42v5.8M508.76 1248.42v5.8M518.64 1248.42v5.8M528.52 1248.42v11M538.4 1248.42v5.8M548.29 1248.42v5.8M558.17 1248.42v5.8M568.05 1248.42v11M577.93 1248.42v5.8M587.81 1248.42v5.8M597.7 1248.42v5.8M607.58 1248.42v11M617.46 1248.42v5.8M627.34 1248.42v5.8M637.22 1248.42v5.8M647.11 1248.42v11M656.99 1248.42v5.8M666.87 1248.42v5.8M676.75 1248.42v5.8M686.63 1248.42v11M696.52 1248.42v5.8M706.4 1248.42v5.8M716.28 1248.42v5.8M726.16 1248.42v11M736.04 1248.42v5.8M745.93 1248.42v5.8M755.81 1248.42v5.8M765.69 1248.42v11" fill="none" stroke="#000" stroke-width="1.6"/>
<polyline fill="none" stroke="#0433FF" stroke-width="1.9" stroke-linejoin="round" points="192.53,1240.64 202.42,1240.64 212.3,1240.64 222.18,1240.64 232.06,1240.64 251.83,1240.64 271.59,1240.64 291.35,1240.64 311.12,1240.64 330.88,1240.64 350.65,1240.64 370.41,1238.52 390.17,1234.7 409.94,1234.7 429.7,1236.4 469.23,1239.23 508.76,1239.23 548.29,1239.23 587.81,1239.23 627.34,1239.23 666.87,1239.23 706.4,1239.23 745.93,1238.31"/>
<polygon points="192.53,1233.44 199.73,1240.64 192.53,1247.84 185.33,1240.64" fill="#0433FF"/>
<polygon points="202.42,1233.44 209.62,1240.64 202.42,1247.84 195.22,1240.64" fill="#0433FF"/>
<polygon points="212.3,1233.44 219.5,1240.64 212.3,1247.84 205.1,1240.64" fill="#0433FF"/>
<polygon points="222.18,1233.44 229.38,1240.64 222.18,1247.84 214.98,1240.64" fill="#0433FF"/>
<polygon points="232.06,1233.44 239.26,1240.64 232.06,1247.84 224.86,1240.64" fill="#0433FF"/>
<polygon points="251.83,1233.44 259.03,1240.64 251.83,1247.84 244.63,1240.64" fill="#0433FF"/>
<polygon points="271.59,1233.44 278.79,1240.64 271.59,1247.84 264.39,1240.64" fill="#0433FF"/>
<polygon points="291.35,1233.44 298.55,1240.64 291.35,1247.84 284.15,1240.64" fill="#0433FF"/>
<polygon points="311.12,1233.44 318.32,1240.64 311.12,1247.84 303.92,1240.64" fill="#0433FF"/>
<polygon points="330.88,1233.44 338.08,1240.64 330.88,1247.84 323.68,1240.64" fill="#0433FF"/>
<polygon points="350.65,1233.44 357.85,1240.64 350.65,1247.84 343.45,1240.64" fill="#0433FF"/>
<polygon points="370.41,1231.32 377.61,1238.52 370.41,1245.72 363.21,1238.52" fill="#0433FF"/>
<polygon points="390.17,1227.5 397.37,1234.7 390.17,1241.9 382.97,1234.7" fill="#0433FF"/>
<polygon points="409.94,1227.5 417.14,1234.7 409.94,1241.9 402.74,1234.7" fill="#0433FF"/>
<polygon points="429.7,1229.2 436.9,1236.4 429.7,1243.6 422.5,1236.4" fill="#0433FF"/>
<polygon points="469.23,1232.03 476.43,1239.23 469.23,1246.43 462.03,1239.23" fill="#0433FF"/>
<polygon points="508.76,1232.03 515.96,1239.23 508.76,1246.43 501.56,1239.23" fill="#0433FF"/>
<polygon points="548.29,1232.03 555.49,1239.23 548.29,1246.43 541.09,1239.23" fill="#0433FF"/>
<polygon points="587.81,1232.03 595.01,1239.23 587.81,1246.43 580.61,1239.23" fill="#0433FF"/>
<polygon points="627.34,1232.03 634.54,1239.23 627.34,1246.43 620.14,1239.23" fill="#0433FF"/>
<polygon points="666.87,1232.03 674.07,1239.23 666.87,1246.43 659.67,1239.23" fill="#0433FF"/>
<polygon points="706.4,1232.03 713.6,1239.23 706.4,1246.43 699.2,1239.23" fill="#0433FF"/>
<polygon points="745.93,1231.11 753.13,1238.31 745.93,1245.51 738.73,1238.31" fill="#0433FF"/>
<polyline fill="none" stroke="#0433FF" stroke-width="1.9" stroke-linejoin="round" points="192.53,1240.64 202.42,1240.64 212.3,1240.64 222.18,1240.64 232.06,1240.64 251.83,1240.64 271.59,1240.64 291.35,1240.64 311.12,1240.64 330.88,1240.64 350.65,1232.86 370.41,1205.99 390.17,1211.65 409.94,1219.75 429.7,1224.04 469.23,1226.74 508.76,1229.79 548.29,1236.4 587.81,1234.46 627.34,1231.16 666.87,1236.4 706.4,1238.52 745.93,1240.36"/>
<polygon points="192.53,1247.84 199.73,1233.44 185.33,1233.44" fill="#0433FF"/>
<polygon points="202.42,1247.84 209.62,1233.44 195.22,1233.44" fill="#0433FF"/>
<polygon points="212.3,1247.84 219.5,1233.44 205.1,1233.44" fill="#0433FF"/>
<polygon points="222.18,1247.84 229.38,1233.44 214.98,1233.44" fill="#0433FF"/>
<polygon points="232.06,1247.84 239.26,1233.44 224.86,1233.44" fill="#0433FF"/>
<polygon points="251.83,1247.84 259.03,1233.44 244.63,1233.44" fill="#0433FF"/>
<polygon points="271.59,1247.84 278.79,1233.44 264.39,1233.44" fill="#0433FF"/>
<polygon points="291.35,1247.84 298.55,1233.44 284.15,1233.44" fill="#0433FF"/>
<polygon points="311.12,1247.84 318.32,1233.44 303.92,1233.44" fill="#0433FF"/>
<polygon points="330.88,1247.84 338.08,1233.44 323.68,1233.44" fill="#0433FF"/>
<polygon points="350.65,1240.06 357.85,1225.66 343.45,1225.66" fill="#0433FF"/>
<polygon points="370.41,1213.19 377.61,1198.79 363.21,1198.79" fill="#0433FF"/>
<polygon points="390.17,1218.85 397.37,1204.45 382.97,1204.45" fill="#0433FF"/>
<polygon points="409.94,1226.95 417.14,1212.55 402.74,1212.55" fill="#0433FF"/>
<polygon points="429.7,1231.24 436.9,1216.84 422.5,1216.84" fill="#0433FF"/>
<polygon points="469.23,1233.94 476.43,1219.54 462.03,1219.54" fill="#0433FF"/>
<polygon points="508.76,1236.99 515.96,1222.59 501.56,1222.59" fill="#0433FF"/>
<polygon points="548.29,1243.6 555.49,1229.2 541.09,1229.2" fill="#0433FF"/>
<polygon points="587.81,1241.66 595.01,1227.26 580.61,1227.26" fill="#0433FF"/>
<polygon points="627.34,1238.36 634.54,1223.96 620.14,1223.96" fill="#0433FF"/>
<polygon points="666.87,1243.6 674.07,1229.2 659.67,1229.2" fill="#0433FF"/>
<polygon points="706.4,1245.72 713.6,1231.32 699.2,1231.32" fill="#0433FF"/>
<polygon points="745.93,1247.56 753.13,1233.16 738.73,1233.16" fill="#0433FF"/>
<polyline fill="none" stroke="#0433FF" stroke-width="1.9" stroke-linejoin="round" points="192.53,1239.23 202.42,1239.23 212.3,1239.23 222.18,1239.23 232.06,1239.23 251.83,1239.23 271.59,1239.23 291.35,1239.23 311.12,1239.23 330.88,1239.23 350.65,1240.78 370.41,1240.78 390.17,1240.78 409.94,1240.78 429.7,1240.78 469.23,1240.78 508.76,1240.78 548.29,1239 587.81,1240.78 627.34,1239.59 666.87,1240.22 706.4,1237.29 745.93,1238.52"/>
<polygon points="192.53,1232.03 199.73,1246.43 185.33,1246.43" fill="#0433FF"/>
<polygon points="202.42,1232.03 209.62,1246.43 195.22,1246.43" fill="#0433FF"/>
<polygon points="212.3,1232.03 219.5,1246.43 205.1,1246.43" fill="#0433FF"/>
<polygon points="222.18,1232.03 229.38,1246.43 214.98,1246.43" fill="#0433FF"/>
<polygon points="232.06,1232.03 239.26,1246.43 224.86,1246.43" fill="#0433FF"/>
<polygon points="251.83,1232.03 259.03,1246.43 244.63,1246.43" fill="#0433FF"/>
<polygon points="271.59,1232.03 278.79,1246.43 264.39,1246.43" fill="#0433FF"/>
<polygon points="291.35,1232.03 298.55,1246.43 284.15,1246.43" fill="#0433FF"/>
<polygon points="311.12,1232.03 318.32,1246.43 303.92,1246.43" fill="#0433FF"/>
<polygon points="330.88,1232.03 338.08,1246.43 323.68,1246.43" fill="#0433FF"/>
<polygon points="350.65,1233.58 357.85,1247.98 343.45,1247.98" fill="#0433FF"/>
<polygon points="370.41,1233.58 377.61,1247.98 363.21,1247.98" fill="#0433FF"/>
<polygon points="390.17,1233.58 397.37,1247.98 382.97,1247.98" fill="#0433FF"/>
<polygon points="409.94,1233.58 417.14,1247.98 402.74,1247.98" fill="#0433FF"/>
<polygon points="429.7,1233.58 436.9,1247.98 422.5,1247.98" fill="#0433FF"/>
<polygon points="469.23,1233.58 476.43,1247.98 462.03,1247.98" fill="#0433FF"/>
<polygon points="508.76,1233.58 515.96,1247.98 501.56,1247.98" fill="#0433FF"/>
<polygon points="548.29,1231.8 555.49,1246.2 541.09,1246.2" fill="#0433FF"/>
<polygon points="587.81,1233.58 595.01,1247.98 580.61,1247.98" fill="#0433FF"/>
<polygon points="627.34,1232.39 634.54,1246.79 620.14,1246.79" fill="#0433FF"/>
<polygon points="666.87,1233.02 674.07,1247.42 659.67,1247.42" fill="#0433FF"/>
<polygon points="706.4,1230.09 713.6,1244.49 699.2,1244.49" fill="#0433FF"/>
<polygon points="745.93,1231.32 753.13,1245.72 738.73,1245.72" fill="#0433FF"/>
<polyline fill="none" stroke="#0433FF" stroke-width="1.9" stroke-linejoin="round" points="192.53,1240.64 202.42,1240.64 212.3,1240.64 222.18,1240.64 232.06,1240.64 251.83,1240.64 271.59,1240.64 291.35,1240.64 311.12,1240.64 330.88,1240.64 350.65,1231.8 370.41,1223.1 390.17,1212.07 409.94,1163.27 429.7,1132.72 469.23,1074.45 508.76,1080.11 548.29,1063.7 587.81,1024.24 627.34,1059.46 666.87,1101.46 706.4,1066.81 745.93,1055.78"/>
<rect x="185.33" y="1233.44" width="14.4" height="14.4" fill="#0433FF"/>
<rect x="195.22" y="1233.44" width="14.4" height="14.4" fill="#0433FF"/>
<rect x="205.1" y="1233.44" width="14.4" height="14.4" fill="#0433FF"/>
<rect x="214.98" y="1233.44" width="14.4" height="14.4" fill="#0433FF"/>
<rect x="224.86" y="1233.44" width="14.4" height="14.4" fill="#0433FF"/>
<rect x="244.63" y="1233.44" width="14.4" height="14.4" fill="#0433FF"/>
<rect x="264.39" y="1233.44" width="14.4" height="14.4" fill="#0433FF"/>
<rect x="284.15" y="1233.44" width="14.4" height="14.4" fill="#0433FF"/>
<rect x="303.92" y="1233.44" width="14.4" height="14.4" fill="#0433FF"/>
<rect x="323.68" y="1233.44" width="14.4" height="14.4" fill="#0433FF"/>
<rect x="343.45" y="1224.6" width="14.4" height="14.4" fill="#0433FF"/>
<rect x="363.21" y="1215.9" width="14.4" height="14.4" fill="#0433FF"/>
<rect x="382.97" y="1204.87" width="14.4" height="14.4" fill="#0433FF"/>
<rect x="402.74" y="1156.07" width="14.4" height="14.4" fill="#0433FF"/>
<rect x="422.5" y="1125.52" width="14.4" height="14.4" fill="#0433FF"/>
<rect x="462.03" y="1067.25" width="14.4" height="14.4" fill="#0433FF"/>
<rect x="501.56" y="1072.91" width="14.4" height="14.4" fill="#0433FF"/>
<rect x="541.09" y="1056.5" width="14.4" height="14.4" fill="#0433FF"/>
<rect x="580.61" y="1017.04" width="14.4" height="14.4" fill="#0433FF"/>
<rect x="620.14" y="1052.26" width="14.4" height="14.4" fill="#0433FF"/>
<rect x="659.67" y="1094.26" width="14.4" height="14.4" fill="#0433FF"/>
<rect x="699.2" y="1059.61" width="14.4" height="14.4" fill="#0433FF"/>
<rect x="738.73" y="1048.58" width="14.4" height="14.4" fill="#0433FF"/>
<polyline fill="none" stroke="#0433FF" stroke-width="1.9" stroke-linejoin="round" points="192.53,1241.35 202.42,1241.35 212.3,1241.35 222.18,1241.35 232.06,1241.35 251.83,1241.35 271.59,1241.35 291.35,1241.35 311.12,1241.35 330.88,1241.35 350.65,1238.52 370.41,1225.08 390.17,1213.06 409.94,1206.27 429.7,1210.23 469.23,1200.9 508.76,1172.04 548.29,1159.74 587.81,1143.9 627.34,1145.17 666.87,1154.08 706.4,1124.94 745.93,1123.67"/>
<circle cx="192.53" cy="1241.35" r="7.2" fill="#0433FF"/>
<circle cx="202.42" cy="1241.35" r="7.2" fill="#0433FF"/>
<circle cx="212.3" cy="1241.35" r="7.2" fill="#0433FF"/>
<circle cx="222.18" cy="1241.35" r="7.2" fill="#0433FF"/>
<circle cx="232.06" cy="1241.35" r="7.2" fill="#0433FF"/>
<circle cx="251.83" cy="1241.35" r="7.2" fill="#0433FF"/>
<circle cx="271.59" cy="1241.35" r="7.2" fill="#0433FF"/>
<circle cx="291.35" cy="1241.35" r="7.2" fill="#0433FF"/>
<circle cx="311.12" cy="1241.35" r="7.2" fill="#0433FF"/>
<circle cx="330.88" cy="1241.35" r="7.2" fill="#0433FF"/>
<circle cx="350.65" cy="1238.52" r="7.2" fill="#0433FF"/>
<circle cx="370.41" cy="1225.08" r="7.2" fill="#0433FF"/>
<circle cx="390.17" cy="1213.06" r="7.2" fill="#0433FF"/>
<circle cx="409.94" cy="1206.27" r="7.2" fill="#0433FF"/>
<circle cx="429.7" cy="1210.23" r="7.2" fill="#0433FF"/>
<circle cx="469.23" cy="1200.9" r="7.2" fill="#0433FF"/>
<circle cx="508.76" cy="1172.04" r="7.2" fill="#0433FF"/>
<circle cx="548.29" cy="1159.74" r="7.2" fill="#0433FF"/>
<circle cx="587.81" cy="1143.9" r="7.2" fill="#0433FF"/>
<circle cx="627.34" cy="1145.17" r="7.2" fill="#0433FF"/>
<circle cx="666.87" cy="1154.08" r="7.2" fill="#0433FF"/>
<circle cx="706.4" cy="1124.94" r="7.2" fill="#0433FF"/>
<circle cx="745.93" cy="1123.67" r="7.2" fill="#0433FF"/>
<text transform="translate(148.4 1257.62) scale(1.05 1.05)" text-anchor="end" dx="0.57" font-size="26" letter-spacing="-0.571" word-spacing="0.286" stroke="#000" stroke-width="0.24">0.0</text>
<text transform="translate(148.4 1186.9) scale(1.05 1.05)" text-anchor="end" dx="0.57" font-size="26" letter-spacing="-0.571" word-spacing="0.286" stroke="#000" stroke-width="0.24">0.5</text>
<text transform="translate(148.4 1116.18) scale(1.05 1.05)" text-anchor="end" dx="0.57" font-size="26" letter-spacing="-0.571" word-spacing="0.286" stroke="#000" stroke-width="0.24">1.0</text>
<text transform="translate(148.4 1045.46) scale(1.05 1.05)" text-anchor="end" dx="0.57" font-size="26" letter-spacing="-0.571" word-spacing="0.286" stroke="#000" stroke-width="0.24">1.5</text>
<text transform="translate(148.4 974.74) scale(1.05 1.05)" text-anchor="end" dx="0.57" font-size="26" letter-spacing="-0.571" word-spacing="0.286" stroke="#000" stroke-width="0.24">2.0</text>
<text transform="translate(148.4 904.02) scale(1.05 1.05)" text-anchor="end" dx="0.57" font-size="26" letter-spacing="-0.571" word-spacing="0.286" stroke="#000" stroke-width="0.24">2.5</text>
<text transform="translate(148.4 833.3) scale(1.05 1.05)" text-anchor="end" dx="0.57" font-size="26" letter-spacing="-0.571" word-spacing="0.286" stroke="#000" stroke-width="0.24">3.0</text>
<text transform="translate(148.4 762.58) scale(1.05 1.05)" text-anchor="end" dx="0.57" font-size="26" letter-spacing="-0.571" word-spacing="0.286" stroke="#000" stroke-width="0.24">3.5</text>
<text transform="translate(171.87 1285.7) scale(1.05 1.05)" text-anchor="middle" dx="0.29" font-size="26" letter-spacing="-0.571" word-spacing="0.286" stroke="#000" stroke-width="0.24">-2</text>
<text transform="translate(211.4 1285.7) scale(1.05 1.05)" text-anchor="middle" dx="0.29" font-size="26" letter-spacing="-0.571" word-spacing="0.286" stroke="#000" stroke-width="0.24">2</text>
<text transform="translate(250.93 1285.7) scale(1.05 1.05)" text-anchor="middle" dx="0.29" font-size="26" letter-spacing="-0.571" word-spacing="0.286" stroke="#000" stroke-width="0.24">6</text>
<text transform="translate(290.45 1285.7) scale(1.05 1.05)" text-anchor="middle" dx="0.29" font-size="26" letter-spacing="-0.571" word-spacing="0.286" stroke="#000" stroke-width="0.24">10</text>
<text transform="translate(329.98 1285.7) scale(1.05 1.05)" text-anchor="middle" dx="0.29" font-size="26" letter-spacing="-0.571" word-spacing="0.286" stroke="#000" stroke-width="0.24">14</text>
<text transform="translate(369.51 1285.7) scale(1.05 1.05)" text-anchor="middle" dx="0.29" font-size="26" letter-spacing="-0.571" word-spacing="0.286" stroke="#000" stroke-width="0.24">18</text>
<text transform="translate(409.04 1285.7) scale(1.05 1.05)" text-anchor="middle" dx="0.29" font-size="26" letter-spacing="-0.571" word-spacing="0.286" stroke="#000" stroke-width="0.24">22</text>
<text transform="translate(448.57 1285.7) scale(1.05 1.05)" text-anchor="middle" dx="0.29" font-size="26" letter-spacing="-0.571" word-spacing="0.286" stroke="#000" stroke-width="0.24">26</text>
<text transform="translate(488.09 1285.7) scale(1.05 1.05)" text-anchor="middle" dx="0.29" font-size="26" letter-spacing="-0.571" word-spacing="0.286" stroke="#000" stroke-width="0.24">30</text>
<text transform="translate(527.62 1285.7) scale(1.05 1.05)" text-anchor="middle" dx="0.29" font-size="26" letter-spacing="-0.571" word-spacing="0.286" stroke="#000" stroke-width="0.24">34</text>
<text transform="translate(567.15 1285.7) scale(1.05 1.05)" text-anchor="middle" dx="0.29" font-size="26" letter-spacing="-0.571" word-spacing="0.286" stroke="#000" stroke-width="0.24">38</text>
<text transform="translate(606.68 1285.7) scale(1.05 1.05)" text-anchor="middle" dx="0.29" font-size="26" letter-spacing="-0.571" word-spacing="0.286" stroke="#000" stroke-width="0.24">42</text>
<text transform="translate(646.21 1285.7) scale(1.05 1.05)" text-anchor="middle" dx="0.29" font-size="26" letter-spacing="-0.571" word-spacing="0.286" stroke="#000" stroke-width="0.24">46</text>
<text transform="translate(685.73 1285.7) scale(1.05 1.05)" text-anchor="middle" dx="0.29" font-size="26" letter-spacing="-0.571" word-spacing="0.286" stroke="#000" stroke-width="0.24">50</text>
<text transform="translate(725.26 1285.7) scale(1.05 1.05)" text-anchor="middle" dx="0.29" font-size="26" letter-spacing="-0.571" word-spacing="0.286" stroke="#000" stroke-width="0.24">54</text>
<text transform="translate(764.79 1285.7) scale(1.05 1.05)" text-anchor="middle" dx="0.29" font-size="26" letter-spacing="-0.571" word-spacing="0.286" stroke="#000" stroke-width="0.24">58</text>
<text transform="translate(463.9 1326.2) scale(1.05 1.05)" text-anchor="middle" dx="0.29" font-size="26" letter-spacing="-0.571" word-spacing="0.286" stroke="#000" stroke-width="0.24">Weeks after AAV9 inoculation</text>
<text transform="translate(87.4 979) rotate(-90) scale(1.05 1.05)" text-anchor="middle" dx="0.29" font-size="26" letter-spacing="-0.571" word-spacing="0.286" stroke="#000" stroke-width="0.24">Absorbance at 450 nm</text>
<text transform="translate(176.2 757.9) scale(1.05 1.05)" font-size="26" letter-spacing="-0.571" word-spacing="0.286" stroke="#000" stroke-width="0.24">Rapamycin (weeks -2 to 12)</text>
<path d="M172.15 770.1v10.7M310.78 770.1v10.7" stroke="#000" stroke-width="2.5" stroke-linecap="round" fill="none"/>
<path d="M310.78 775.45H172.15" stroke="#000" stroke-width="3" stroke-linecap="round" stroke-dasharray="7.1 4.86" fill="none"/>
<path d="M779.45 1235.56H162.97" stroke="#000" stroke-width="3.2" stroke-linecap="round" stroke-dasharray="6.5 5.24" fill="none"/>
<text transform="translate(788.2 1243.7) scale(1.05 1.05)" font-size="26" letter-spacing="-0.571" word-spacing="0.286" stroke="#000" stroke-width="0.24">LOD = 0.09</text>
<path d="M805.9 834.8h19.2" stroke="#0433FF" stroke-width="1.9" fill="none"/>
<circle cx="815.5" cy="834.8" r="7.2" fill="#0433FF"/>
<text transform="translate(833.1 843.5) scale(1.05 1.05)" font-size="26" letter-spacing="-0.571" word-spacing="0.286" stroke="#000" stroke-width="0.24">r20073</text>
<path d="M805.9 878.2h19.2" stroke="#0433FF" stroke-width="1.9" fill="none"/>
<rect x="808.3" y="871" width="14.4" height="14.4" fill="#0433FF"/>
<text transform="translate(833.1 886.9) scale(1.05 1.05)" font-size="26" letter-spacing="-0.571" word-spacing="0.286" stroke="#000" stroke-width="0.24">r20078</text>
<path d="M805.9 921.6h19.2" stroke="#0433FF" stroke-width="1.9" fill="none"/>
<polygon points="815.5,914.4 822.7,928.8 808.3,928.8" fill="#0433FF"/>
<text transform="translate(833.1 930.3) scale(1.05 1.05)" font-size="26" letter-spacing="-0.571" word-spacing="0.286" stroke="#000" stroke-width="0.24">r21079</text>
<path d="M805.9 965h19.2" stroke="#0433FF" stroke-width="1.9" fill="none"/>
<polygon points="815.5,972.2 822.7,957.8 808.3,957.8" fill="#0433FF"/>
<text transform="translate(833.1 973.7) scale(1.05 1.05)" font-size="26" letter-spacing="-0.571" word-spacing="0.286" stroke="#000" stroke-width="0.24">r21082</text>
<path d="M805.9 1008.4h19.2" stroke="#0433FF" stroke-width="1.9" fill="none"/>
<polygon points="815.5,1001.2 822.7,1008.4 815.5,1015.6 808.3,1008.4" fill="#0433FF"/>
<text transform="translate(833.1 1017.1) scale(1.05 1.05)" font-size="26" letter-spacing="-0.571" word-spacing="0.286" stroke="#000" stroke-width="0.24">rh3097</text>
</g>
<g id="panel-d">
<text transform="translate(1021 700) scale(1.05)" font-size="37.33" font-weight="bold">d</text>
<path d="M1190.83 754.28V1249.88H1793.91" fill="none" stroke="#000" stroke-width="1.85" stroke-linecap="square"/>
<path d="M1190.83 1249.88h-11M1190.83 1235.72h-5.8M1190.83 1221.56h-5.8M1190.83 1207.4h-5.8M1190.83 1193.24h-5.8M1190.83 1179.08h-11M1190.83 1164.92h-5.8M1190.83 1150.76h-5.8M1190.83 1136.6h-5.8M1190.83 1122.44h-5.8M1190.83 1108.28h-11M1190.83 1094.12h-5.8M1190.83 1079.96h-5.8M1190.83 1065.8h-5.8M1190.83 1051.64h-5.8M1190.83 1037.48h-11M1190.83 1023.32h-5.8M1190.83 1009.16h-5.8M1190.83 995h-5.8M1190.83 980.84h-5.8M1190.83 966.68h-11M1190.83 952.52h-5.8M1190.83 938.36h-5.8M1190.83 924.2h-5.8M1190.83 910.04h-5.8M1190.83 895.88h-11M1190.83 881.72h-5.8M1190.83 867.56h-5.8M1190.83 853.4h-5.8M1190.83 839.24h-5.8M1190.83 825.08h-11M1190.83 810.92h-5.8M1190.83 796.76h-5.8M1190.83 782.6h-5.8M1190.83 768.44h-5.8M1190.83 754.28h-11M1200.63 1249.88v11M1210.52 1249.88v5.8M1220.41 1249.88v5.8M1230.29 1249.88v5.8M1240.18 1249.88v11M1250.07 1249.88v5.8M1259.96 1249.88v5.8M1269.85 1249.88v5.8M1279.73 1249.88v11M1289.62 1249.88v5.8M1299.51 1249.88v5.8M1309.4 1249.88v5.8M1319.29 1249.88v11M1329.17 1249.88v5.8M1339.06 1249.88v5.8M1348.95 1249.88v5.8M1358.84 1249.88v11M1368.73 1249.88v5.8M1378.61 1249.88v5.8M1388.5 1249.88v5.8M1398.39 1249.88v11M1408.28 1249.88v5.8M1418.17 1249.88v5.8M1428.05 1249.88v5.8M1437.94 1249.88v11M1447.83 1249.88v5.8M1457.72 1249.88v5.8M1467.61 1249.88v5.8M1477.49 1249.88v11M1487.38 1249.88v5.8M1497.27 1249.88v5.8M1507.16 1249.88v5.8M1517.05 1249.88v11M1526.93 1249.88v5.8M1536.82 1249.88v5.8M1546.71 1249.88v5.8M1556.6 1249.88v11M1566.49 1249.88v5.8M1576.37 1249.88v5.8M1586.26 1249.88v5.8M1596.15 1249.88v11M1606.04 1249.88v5.8M1615.93 1249.88v5.8M1625.81 1249.88v5.8M1635.7 1249.88v11M1645.59 1249.88v5.8M1655.48 1249.88v5.8M1665.37 1249.88v5.8M1675.25 1249.88v11M1685.14 1249.88v5.8M1695.03 1249.88v5.8M1704.92 1249.88v5.8M1714.81 1249.88v11M1724.69 1249.88v5.8M1734.58 1249.88v5.8M1744.47 1249.88v5.8M1754.36 1249.88v11M1764.25 1249.88v5.8M1774.13 1249.88v5.8M1784.02 1249.88v5.8M1793.91 1249.88v11" fill="none" stroke="#000" stroke-width="1.6"/>
<polyline fill="none" stroke="#000" stroke-width="1.9" stroke-linejoin="round" points="1220.41,1243.22 1230.29,1228.22 1240.18,1227.15 1250.07,1225.81 1259.96,1227.22 1279.73,1228.64 1299.51,1227.93 1319.29,1213.49 1339.06,1212.92 1358.84,1124 1378.61,1091.15 1398.39,1043.85 1418.17,990.75 1437.94,976.17 1457.72,1011.71 1497.27,1028.98 1536.82,1048.95 1576.37,1020.2 1615.93,1026.01 1655.48,1038.9 1695.03,1027.85 1734.58,1009.44 1774.13,1021.48"/>
<polygon points="1220.41,1236.02 1227.61,1243.22 1220.41,1250.42 1213.21,1243.22" fill="#000"/>
<polygon points="1230.29,1221.02 1237.49,1228.22 1230.29,1235.42 1223.09,1228.22" fill="#000"/>
<polygon points="1240.18,1219.95 1247.38,1227.15 1240.18,1234.35 1232.98,1227.15" fill="#000"/>
<polygon points="1250.07,1218.61 1257.27,1225.81 1250.07,1233.01 1242.87,1225.81" fill="#000"/>
<polygon points="1259.96,1220.02 1267.16,1227.22 1259.96,1234.42 1252.76,1227.22" fill="#000"/>
<polygon points="1279.73,1221.44 1286.93,1228.64 1279.73,1235.84 1272.53,1228.64" fill="#000"/>
<polygon points="1299.51,1220.73 1306.71,1227.93 1299.51,1235.13 1292.31,1227.93" fill="#000"/>
<polygon points="1319.29,1206.29 1326.49,1213.49 1319.29,1220.69 1312.09,1213.49" fill="#000"/>
<polygon points="1339.06,1205.72 1346.26,1212.92 1339.06,1220.12 1331.86,1212.92" fill="#000"/>
<polygon points="1358.84,1116.8 1366.04,1124 1358.84,1131.2 1351.64,1124" fill="#000"/>
<polygon points="1378.61,1083.95 1385.81,1091.15 1378.61,1098.35 1371.41,1091.15" fill="#000"/>
<polygon points="1398.39,1036.65 1405.59,1043.85 1398.39,1051.05 1391.19,1043.85" fill="#000"/>
<polygon points="1418.17,983.55 1425.37,990.75 1418.17,997.95 1410.97,990.75" fill="#000"/>
<polygon points="1437.94,968.97 1445.14,976.17 1437.94,983.37 1430.74,976.17" fill="#000"/>
<polygon points="1457.72,1004.51 1464.92,1011.71 1457.72,1018.91 1450.52,1011.71" fill="#000"/>
<polygon points="1497.27,1021.78 1504.47,1028.98 1497.27,1036.18 1490.07,1028.98" fill="#000"/>
<polygon points="1536.82,1041.75 1544.02,1048.95 1536.82,1056.15 1529.62,1048.95" fill="#000"/>
<polygon points="1576.37,1013 1583.57,1020.2 1576.37,1027.4 1569.17,1020.2" fill="#000"/>
<polygon points="1615.93,1018.81 1623.13,1026.01 1615.93,1033.21 1608.73,1026.01" fill="#000"/>
<polygon points="1655.48,1031.7 1662.68,1038.9 1655.48,1046.1 1648.28,1038.9" fill="#000"/>
<polygon points="1695.03,1020.65 1702.23,1027.85 1695.03,1035.05 1687.83,1027.85" fill="#000"/>
<polygon points="1734.58,1002.24 1741.78,1009.44 1734.58,1016.64 1727.38,1009.44" fill="#000"/>
<polygon points="1774.13,1014.28 1781.33,1021.48 1774.13,1028.68 1766.93,1021.48" fill="#000"/>
<polyline fill="none" stroke="#000" stroke-width="1.9" stroke-linejoin="round" points="1220.41,1243.22 1230.29,1243.51 1240.18,1243.51 1250.07,1243.51 1259.96,1243.51 1279.73,1242.59 1299.51,1242.8 1319.29,1241.85 1339.06,1242.09 1358.84,1241.85 1378.61,1239.68 1398.39,1119.75 1418.17,1032.95 1437.94,993.3 1457.72,995 1497.27,967.81 1536.82,1017.66 1576.37,960.87 1615.93,965.26 1655.48,912.87 1695.03,837.12 1734.58,881.01 1774.13,861.05"/>
<polygon points="1220.41,1250.42 1227.61,1236.02 1213.21,1236.02" fill="#000"/>
<polygon points="1230.29,1250.71 1237.49,1236.31 1223.09,1236.31" fill="#000"/>
<polygon points="1240.18,1250.71 1247.38,1236.31 1232.98,1236.31" fill="#000"/>
<polygon points="1250.07,1250.71 1257.27,1236.31 1242.87,1236.31" fill="#000"/>
<polygon points="1259.96,1250.71 1267.16,1236.31 1252.76,1236.31" fill="#000"/>
<polygon points="1279.73,1249.79 1286.93,1235.39 1272.53,1235.39" fill="#000"/>
<polygon points="1299.51,1250 1306.71,1235.6 1292.31,1235.6" fill="#000"/>
<polygon points="1319.29,1249.05 1326.49,1234.65 1312.09,1234.65" fill="#000"/>
<polygon points="1339.06,1249.29 1346.26,1234.89 1331.86,1234.89" fill="#000"/>
<polygon points="1358.84,1249.05 1366.04,1234.65 1351.64,1234.65" fill="#000"/>
<polygon points="1378.61,1246.88 1385.81,1232.48 1371.41,1232.48" fill="#000"/>
<polygon points="1398.39,1126.95 1405.59,1112.55 1391.19,1112.55" fill="#000"/>
<polygon points="1418.17,1040.15 1425.37,1025.75 1410.97,1025.75" fill="#000"/>
<polygon points="1437.94,1000.5 1445.14,986.1 1430.74,986.1" fill="#000"/>
<polygon points="1457.72,1002.2 1464.92,987.8 1450.52,987.8" fill="#000"/>
<polygon points="1497.27,975.01 1504.47,960.61 1490.07,960.61" fill="#000"/>
<polygon points="1536.82,1024.86 1544.02,1010.46 1529.62,1010.46" fill="#000"/>
<polygon points="1576.37,968.07 1583.57,953.67 1569.17,953.67" fill="#000"/>
<polygon points="1615.93,972.46 1623.13,958.06 1608.73,958.06" fill="#000"/>
<polygon points="1655.48,920.07 1662.68,905.67 1648.28,905.67" fill="#000"/>
<polygon points="1695.03,844.32 1702.23,829.92 1687.83,829.92" fill="#000"/>
<polygon points="1734.58,888.21 1741.78,873.81 1727.38,873.81" fill="#000"/>
<polygon points="1774.13,868.25 1781.33,853.85 1766.93,853.85" fill="#000"/>
<polyline fill="none" stroke="#000" stroke-width="1.9" stroke-linejoin="round" points="1220.41,1243.22 1230.29,1196.64 1240.18,1204.91 1250.07,1206.98 1259.96,1214.48 1279.73,1226.52 1299.51,1231.47 1319.29,1234.59 1339.06,1235.05 1358.84,1229.06 1378.61,1211.22 1398.39,1194.51 1418.17,1175.82 1437.94,1163.93 1457.72,1179.08 1497.27,1126.12 1536.82,1118.9 1576.37,1153.59 1615.93,1073.02 1655.48,1059.71 1695.03,1084.77 1734.58,1052.06 1774.13,1082.65"/>
<polygon points="1220.41,1236.02 1227.61,1250.42 1213.21,1250.42" fill="#000"/>
<polygon points="1230.29,1189.44 1237.49,1203.84 1223.09,1203.84" fill="#000"/>
<polygon points="1240.18,1197.71 1247.38,1212.11 1232.98,1212.11" fill="#000"/>
<polygon points="1250.07,1199.78 1257.27,1214.18 1242.87,1214.18" fill="#000"/>
<polygon points="1259.96,1207.28 1267.16,1221.68 1252.76,1221.68" fill="#000"/>
<polygon points="1279.73,1219.32 1286.93,1233.72 1272.53,1233.72" fill="#000"/>
<polygon points="1299.51,1224.27 1306.71,1238.67 1292.31,1238.67" fill="#000"/>
<polygon points="1319.29,1227.39 1326.49,1241.79 1312.09,1241.79" fill="#000"/>
<polygon points="1339.06,1227.85 1346.26,1242.25 1331.86,1242.25" fill="#000"/>
<polygon points="1358.84,1221.86 1366.04,1236.26 1351.64,1236.26" fill="#000"/>
<polygon points="1378.61,1204.02 1385.81,1218.42 1371.41,1218.42" fill="#000"/>
<polygon points="1398.39,1187.31 1405.59,1201.71 1391.19,1201.71" fill="#000"/>
<polygon points="1418.17,1168.62 1425.37,1183.02 1410.97,1183.02" fill="#000"/>
<polygon points="1437.94,1156.73 1445.14,1171.13 1430.74,1171.13" fill="#000"/>
<polygon points="1457.72,1171.88 1464.92,1186.28 1450.52,1186.28" fill="#000"/>
<polygon points="1497.27,1118.92 1504.47,1133.32 1490.07,1133.32" fill="#000"/>
<polygon points="1536.82,1111.7 1544.02,1126.1 1529.62,1126.1" fill="#000"/>
<polygon points="1576.37,1146.39 1583.57,1160.79 1569.17,1160.79" fill="#000"/>
<polygon points="1615.93,1065.82 1623.13,1080.22 1608.73,1080.22" fill="#000"/>
<polygon points="1655.48,1052.51 1662.68,1066.91 1648.28,1066.91" fill="#000"/>
<polygon points="1695.03,1077.57 1702.23,1091.97 1687.83,1091.97" fill="#000"/>
<polygon points="1734.58,1044.86 1741.78,1059.26 1727.38,1059.26" fill="#000"/>
<polygon points="1774.13,1075.45 1781.33,1089.85 1766.93,1089.85" fill="#000"/>
<polyline fill="none" stroke="#000" stroke-width="1.9" stroke-linejoin="round" points="1220.41,1243.22 1230.29,1235.72 1240.18,1221.19 1250.07,1217.1 1259.96,1217.1 1279.73,1218.94 1299.51,1220.36 1319.29,1211.08 1339.06,1191.12 1358.84,1135.75 1378.61,1051.36 1398.39,1017.09 1418.17,983.11 1437.94,991.46 1457.72,989.34 1497.27,994.58 1536.82,1011.14 1576.37,1005.34 1615.93,982.26 1655.48,978.01 1695.03,994.58 1734.58,1017.09 1774.13,1053.34"/>
<rect x="1213.21" y="1236.02" width="14.4" height="14.4" fill="#000"/>
<rect x="1223.09" y="1228.52" width="14.4" height="14.4" fill="#000"/>
<rect x="1232.98" y="1213.99" width="14.4" height="14.4" fill="#000"/>
<rect x="1242.87" y="1209.9" width="14.4" height="14.4" fill="#000"/>
<rect x="1252.76" y="1209.9" width="14.4" height="14.4" fill="#000"/>
<rect x="1272.53" y="1211.74" width="14.4" height="14.4" fill="#000"/>
<rect x="1292.31" y="1213.16" width="14.4" height="14.4" fill="#000"/>
<rect x="1312.09" y="1203.88" width="14.4" height="14.4" fill="#000"/>
<rect x="1331.86" y="1183.92" width="14.4" height="14.4" fill="#000"/>
<rect x="1351.64" y="1128.55" width="14.4" height="14.4" fill="#000"/>
<rect x="1371.41" y="1044.16" width="14.4" height="14.4" fill="#000"/>
<rect x="1391.19" y="1009.89" width="14.4" height="14.4" fill="#000"/>
<rect x="1410.97" y="975.91" width="14.4" height="14.4" fill="#000"/>
<rect x="1430.74" y="984.26" width="14.4" height="14.4" fill="#000"/>
<rect x="1450.52" y="982.14" width="14.4" height="14.4" fill="#000"/>
<rect x="1490.07" y="987.38" width="14.4" height="14.4" fill="#000"/>
<rect x="1529.62" y="1003.94" width="14.4" height="14.4" fill="#000"/>
<rect x="1569.17" y="998.14" width="14.4" height="14.4" fill="#000"/>
<rect x="1608.73" y="975.06" width="14.4" height="14.4" fill="#000"/>
<rect x="1648.28" y="970.81" width="14.4" height="14.4" fill="#000"/>
<rect x="1687.83" y="987.38" width="14.4" height="14.4" fill="#000"/>
<rect x="1727.38" y="1009.89" width="14.4" height="14.4" fill="#000"/>
<rect x="1766.93" y="1046.14" width="14.4" height="14.4" fill="#000"/>
<polyline fill="none" stroke="#000" stroke-width="1.9" stroke-linejoin="round" points="1220.41,1243.22 1230.29,1108.99 1240.18,1041.02 1250.07,1046.97 1259.96,1081.23 1279.73,1138.3 1299.51,1139.43 1319.29,1101.34 1339.06,1115.64 1358.84,1055.6 1378.61,903.38 1398.39,868.69 1418.17,796.76 1437.94,791.1 1457.72,796.05 1497.27,785.86 1536.82,800.87 1576.37,794.21 1615.93,801.15 1655.48,805.26 1695.03,791.1 1734.58,793.64 1774.13,806.67"/>
<circle cx="1220.41" cy="1243.22" r="7.2" fill="#000"/>
<circle cx="1230.29" cy="1108.99" r="7.2" fill="#000"/>
<circle cx="1240.18" cy="1041.02" r="7.2" fill="#000"/>
<circle cx="1250.07" cy="1046.97" r="7.2" fill="#000"/>
<circle cx="1259.96" cy="1081.23" r="7.2" fill="#000"/>
<circle cx="1279.73" cy="1138.3" r="7.2" fill="#000"/>
<circle cx="1299.51" cy="1139.43" r="7.2" fill="#000"/>
<circle cx="1319.29" cy="1101.34" r="7.2" fill="#000"/>
<circle cx="1339.06" cy="1115.64" r="7.2" fill="#000"/>
<circle cx="1358.84" cy="1055.6" r="7.2" fill="#000"/>
<circle cx="1378.61" cy="903.38" r="7.2" fill="#000"/>
<circle cx="1398.39" cy="868.69" r="7.2" fill="#000"/>
<circle cx="1418.17" cy="796.76" r="7.2" fill="#000"/>
<circle cx="1437.94" cy="791.1" r="7.2" fill="#000"/>
<circle cx="1457.72" cy="796.05" r="7.2" fill="#000"/>
<circle cx="1497.27" cy="785.86" r="7.2" fill="#000"/>
<circle cx="1536.82" cy="800.87" r="7.2" fill="#000"/>
<circle cx="1576.37" cy="794.21" r="7.2" fill="#000"/>
<circle cx="1615.93" cy="801.15" r="7.2" fill="#000"/>
<circle cx="1655.48" cy="805.26" r="7.2" fill="#000"/>
<circle cx="1695.03" cy="791.1" r="7.2" fill="#000"/>
<circle cx="1734.58" cy="793.64" r="7.2" fill="#000"/>
<circle cx="1774.13" cy="806.67" r="7.2" fill="#000"/>
<text transform="translate(1176.26 1258.78) scale(1.05 1.05)" text-anchor="end" dx="0.57" font-size="26" letter-spacing="-0.571" word-spacing="0.286" stroke="#000" stroke-width="0.24">0.0</text>
<text transform="translate(1176.26 1187.98) scale(1.05 1.05)" text-anchor="end" dx="0.57" font-size="26" letter-spacing="-0.571" word-spacing="0.286" stroke="#000" stroke-width="0.24">0.5</text>
<text transform="translate(1176.26 1117.18) scale(1.05 1.05)" text-anchor="end" dx="0.57" font-size="26" letter-spacing="-0.571" word-spacing="0.286" stroke="#000" stroke-width="0.24">1.0</text>
<text transform="translate(1176.26 1046.38) scale(1.05 1.05)" text-anchor="end" dx="0.57" font-size="26" letter-spacing="-0.571" word-spacing="0.286" stroke="#000" stroke-width="0.24">1.5</text>
<text transform="translate(1176.26 975.58) scale(1.05 1.05)" text-anchor="end" dx="0.57" font-size="26" letter-spacing="-0.571" word-spacing="0.286" stroke="#000" stroke-width="0.24">2.0</text>
<text transform="translate(1176.26 904.78) scale(1.05 1.05)" text-anchor="end" dx="0.57" font-size="26" letter-spacing="-0.571" word-spacing="0.286" stroke="#000" stroke-width="0.24">2.5</text>
<text transform="translate(1176.26 833.98) scale(1.05 1.05)" text-anchor="end" dx="0.57" font-size="26" letter-spacing="-0.571" word-spacing="0.286" stroke="#000" stroke-width="0.24">3.0</text>
<text transform="translate(1176.26 763.18) scale(1.05 1.05)" text-anchor="end" dx="0.57" font-size="26" letter-spacing="-0.571" word-spacing="0.286" stroke="#000" stroke-width="0.24">3.5</text>
<text transform="translate(1199.73 1287.4) scale(1.05 1.05)" text-anchor="middle" dx="0.29" font-size="26" letter-spacing="-0.571" word-spacing="0.286" stroke="#000" stroke-width="0.24">-2</text>
<text transform="translate(1239.28 1287.4) scale(1.05 1.05)" text-anchor="middle" dx="0.29" font-size="26" letter-spacing="-0.571" word-spacing="0.286" stroke="#000" stroke-width="0.24">2</text>
<text transform="translate(1278.83 1287.4) scale(1.05 1.05)" text-anchor="middle" dx="0.29" font-size="26" letter-spacing="-0.571" word-spacing="0.286" stroke="#000" stroke-width="0.24">6</text>
<text transform="translate(1318.39 1287.4) scale(1.05 1.05)" text-anchor="middle" dx="0.29" font-size="26" letter-spacing="-0.571" word-spacing="0.286" stroke="#000" stroke-width="0.24">10</text>
<text transform="translate(1357.94 1287.4) scale(1.05 1.05)" text-anchor="middle" dx="0.29" font-size="26" letter-spacing="-0.571" word-spacing="0.286" stroke="#000" stroke-width="0.24">14</text>
<text transform="translate(1397.49 1287.4) scale(1.05 1.05)" text-anchor="middle" dx="0.29" font-size="26" letter-spacing="-0.571" word-spacing="0.286" stroke="#000" stroke-width="0.24">18</text>
<text transform="translate(1437.04 1287.4) scale(1.05 1.05)" text-anchor="middle" dx="0.29" font-size="26" letter-spacing="-0.571" word-spacing="0.286" stroke="#000" stroke-width="0.24">22</text>
<text transform="translate(1476.59 1287.4) scale(1.05 1.05)" text-anchor="middle" dx="0.29" font-size="26" letter-spacing="-0.571" word-spacing="0.286" stroke="#000" stroke-width="0.24">26</text>
<text transform="translate(1516.15 1287.4) scale(1.05 1.05)" text-anchor="middle" dx="0.29" font-size="26" letter-spacing="-0.571" word-spacing="0.286" stroke="#000" stroke-width="0.24">30</text>
<text transform="translate(1555.7 1287.4) scale(1.05 1.05)" text-anchor="middle" dx="0.29" font-size="26" letter-spacing="-0.571" word-spacing="0.286" stroke="#000" stroke-width="0.24">34</text>
<text transform="translate(1595.25 1287.4) scale(1.05 1.05)" text-anchor="middle" dx="0.29" font-size="26" letter-spacing="-0.571" word-spacing="0.286" stroke="#000" stroke-width="0.24">38</text>
<text transform="translate(1634.8 1287.4) scale(1.05 1.05)" text-anchor="middle" dx="0.29" font-size="26" letter-spacing="-0.571" word-spacing="0.286" stroke="#000" stroke-width="0.24">42</text>
<text transform="translate(1674.35 1287.4) scale(1.05 1.05)" text-anchor="middle" dx="0.29" font-size="26" letter-spacing="-0.571" word-spacing="0.286" stroke="#000" stroke-width="0.24">46</text>
<text transform="translate(1713.91 1287.4) scale(1.05 1.05)" text-anchor="middle" dx="0.29" font-size="26" letter-spacing="-0.571" word-spacing="0.286" stroke="#000" stroke-width="0.24">50</text>
<text transform="translate(1753.46 1287.4) scale(1.05 1.05)" text-anchor="middle" dx="0.29" font-size="26" letter-spacing="-0.571" word-spacing="0.286" stroke="#000" stroke-width="0.24">54</text>
<text transform="translate(1793.01 1287.4) scale(1.05 1.05)" text-anchor="middle" dx="0.29" font-size="26" letter-spacing="-0.571" word-spacing="0.286" stroke="#000" stroke-width="0.24">58</text>
<text transform="translate(1492 1325.9) scale(1.05 1.05)" text-anchor="middle" dx="0.29" font-size="26" letter-spacing="-0.571" word-spacing="0.286" stroke="#000" stroke-width="0.24">Weeks after AAV9 inoculation</text>
<text transform="translate(1115.1 980) rotate(-90) scale(1.05 1.05)" text-anchor="middle" dx="0.29" font-size="26" letter-spacing="-0.571" word-spacing="0.286" stroke="#000" stroke-width="0.24">Absorbance at 450 nm</text>
<text transform="translate(1202.35 759) scale(1.05 1.05)" font-size="26" letter-spacing="-0.571" word-spacing="0.286" stroke="#000" stroke-width="0.24">Rapamycin (weeks -2 to 12)</text>
<path d="M1199.65 770.68v10.7M1339.4 770.68v10.7" stroke="#000" stroke-width="2.5" stroke-linecap="round" fill="none"/>
<path d="M1339.4 776.03H1199.65" stroke="#000" stroke-width="3" stroke-linecap="round" stroke-dasharray="7.1 4.96" fill="none"/>
<path d="M1807.45 1237H1190.83" stroke="#000" stroke-width="3.2" stroke-linecap="round" stroke-dasharray="6.5 5.24" fill="none"/>
<text transform="translate(1820.5 1245.15) scale(1.05 1.05)" font-size="26" letter-spacing="-0.571" word-spacing="0.286" stroke="#000" stroke-width="0.24">LOD=0.09</text>
<path d="M1832.95 843.95h19.2" stroke="#000" stroke-width="1.9" fill="none"/>
<circle cx="1842.55" cy="843.95" r="7.2" fill="#000"/>
<text transform="translate(1860.3 852.9) scale(1.05 1.05)" font-size="26" letter-spacing="-0.571" word-spacing="0.286" stroke="#000" stroke-width="0.24">r20073</text>
<path d="M1832.95 889.05h19.2" stroke="#000" stroke-width="1.9" fill="none"/>
<rect x="1835.35" y="881.85" width="14.4" height="14.4" fill="#000"/>
<text transform="translate(1860.3 898) scale(1.05 1.05)" font-size="26" letter-spacing="-0.571" word-spacing="0.286" stroke="#000" stroke-width="0.24">r20078</text>
<path d="M1832.95 934.15h19.2" stroke="#000" stroke-width="1.9" fill="none"/>
<polygon points="1842.55,926.95 1849.75,941.35 1835.35,941.35" fill="#000"/>
<text transform="translate(1860.3 943.1) scale(1.05 1.05)" font-size="26" letter-spacing="-0.571" word-spacing="0.286" stroke="#000" stroke-width="0.24">r21079</text>
<path d="M1832.95 979.25h19.2" stroke="#000" stroke-width="1.9" fill="none"/>
<polygon points="1842.55,986.45 1849.75,972.05 1835.35,972.05" fill="#000"/>
<text transform="translate(1860.3 988.2) scale(1.05 1.05)" font-size="26" letter-spacing="-0.571" word-spacing="0.286" stroke="#000" stroke-width="0.24">r21082</text>
<path d="M1832.95 1024.35h19.2" stroke="#000" stroke-width="1.9" fill="none"/>
<polygon points="1842.55,1017.15 1849.75,1024.35 1842.55,1031.55 1835.35,1024.35" fill="#000"/>
<text transform="translate(1860.3 1033.3) scale(1.05 1.05)" font-size="26" letter-spacing="-0.571" word-spacing="0.286" stroke="#000" stroke-width="0.24">rh3097</text>
</g>
<g id="digit-one-trim">
<path transform="translate(148.4 442.58) scale(1.05 1.05)" d="M-32.33 -2.29H-27.5V0.5H-32.33zM-24.86 -2.29H-20.22V0.5H-24.86z" fill="#fff"/>
<path transform="translate(148.4 371.83) scale(1.05 1.05)" d="M-32.33 -2.29H-27.5V0.5H-32.33zM-24.86 -2.29H-20.22V0.5H-24.86z" fill="#fff"/>
<path transform="translate(290.4 613) scale(1.05 1.05)" d="M-12.07 -2.29H-7.23V0.5H-12.07zM-4.6 -2.29H0.04V0.5H-4.6z" fill="#fff"/>
<path transform="translate(329.96 613) scale(1.05 1.05)" d="M-12.07 -2.29H-7.23V0.5H-12.07zM-4.6 -2.29H0.04V0.5H-4.6z" fill="#fff"/>
<path transform="translate(369.52 613) scale(1.05 1.05)" d="M-12.07 -2.29H-7.23V0.5H-12.07zM-4.6 -2.29H0.04V0.5H-4.6z" fill="#fff"/>
<path transform="translate(175.4 84.75) scale(1.05 1.05)" d="M275.61 -2.29H280.45V0.5H275.61zM283.08 -2.29H287.72V0.5H283.08z" fill="#fff"/>
<path transform="translate(832.4 280.7) scale(1.05 1.05)" d="M23.49 -2.29H28.33V0.5H23.49zM30.97 -2.29H35.6V0.5H30.97z" fill="#fff"/>
<path transform="translate(832.4 326.25) scale(1.05 1.05)" d="M23.49 -2.29H28.33V0.5H23.49zM30.97 -2.29H35.6V0.5H30.97z" fill="#fff"/>
<path transform="translate(1163.5 446.27) scale(1.05 1.05)" d="M-32.89 -2.33H-27.97V0.5H-32.89zM-25.29 -2.33H-20.58V0.5H-25.29z" fill="#fff"/>
<path transform="translate(1163.5 374.14) scale(1.05 1.05)" d="M-32.89 -2.33H-27.97V0.5H-32.89zM-25.29 -2.33H-20.58V0.5H-25.29z" fill="#fff"/>
<path transform="translate(1308.24 620) scale(1.05 1.05)" d="M-12.27 -2.33H-7.36V0.5H-12.27zM-4.68 -2.33H0.03V0.5H-4.68z" fill="#fff"/>
<path transform="translate(1348.56 620) scale(1.05 1.05)" d="M-12.27 -2.33H-7.36V0.5H-12.27zM-4.68 -2.33H0.03V0.5H-4.68z" fill="#fff"/>
<path transform="translate(1388.88 620) scale(1.05 1.05)" d="M-12.27 -2.33H-7.36V0.5H-12.27zM-4.68 -2.33H0.03V0.5H-4.68z" fill="#fff"/>
<path transform="translate(1192.8 81.05) scale(1.05 1.05)" d="M280.34 -2.33H285.26V0.5H280.34zM287.94 -2.33H292.65V0.5H287.94z" fill="#fff"/>
<path transform="translate(1862 266) scale(1.05 1.05)" d="M23.9 -2.33H28.82V0.5H23.9zM31.5 -2.33H36.21V0.5H31.5z" fill="#fff"/>
<path transform="translate(1862 311.2) scale(1.05 1.05)" d="M23.9 -2.33H28.82V0.5H23.9zM31.5 -2.33H36.21V0.5H31.5z" fill="#fff"/>
<path transform="translate(148.4 1116.18) scale(1.05 1.05)" d="M-32.33 -2.29H-27.5V0.5H-32.33zM-24.86 -2.29H-20.22V0.5H-24.86z" fill="#fff"/>
<path transform="translate(148.4 1045.46) scale(1.05 1.05)" d="M-32.33 -2.29H-27.5V0.5H-32.33zM-24.86 -2.29H-20.22V0.5H-24.86z" fill="#fff"/>
<path transform="translate(290.45 1285.7) scale(1.05 1.05)" d="M-12.07 -2.29H-7.23V0.5H-12.07zM-4.6 -2.29H0.04V0.5H-4.6z" fill="#fff"/>
<path transform="translate(329.98 1285.7) scale(1.05 1.05)" d="M-12.07 -2.29H-7.23V0.5H-12.07zM-4.6 -2.29H0.04V0.5H-4.6z" fill="#fff"/>
<path transform="translate(369.51 1285.7) scale(1.05 1.05)" d="M-12.07 -2.29H-7.23V0.5H-12.07zM-4.6 -2.29H0.04V0.5H-4.6z" fill="#fff"/>
<path transform="translate(176.2 757.9) scale(1.05 1.05)" d="M275.61 -2.29H280.45V0.5H275.61zM283.08 -2.29H287.72V0.5H283.08z" fill="#fff"/>
<path transform="translate(833.1 930.3) scale(1.05 1.05)" d="M23.49 -2.29H28.33V0.5H23.49zM30.97 -2.29H35.6V0.5H30.97z" fill="#fff"/>
<path transform="translate(833.1 973.7) scale(1.05 1.05)" d="M23.49 -2.29H28.33V0.5H23.49zM30.97 -2.29H35.6V0.5H30.97z" fill="#fff"/>
<path transform="translate(1176.26 1117.18) scale(1.05 1.05)" d="M-32.33 -2.29H-27.5V0.5H-32.33zM-24.86 -2.29H-20.22V0.5H-24.86z" fill="#fff"/>
<path transform="translate(1176.26 1046.38) scale(1.05 1.05)" d="M-32.33 -2.29H-27.5V0.5H-32.33zM-24.86 -2.29H-20.22V0.5H-24.86z" fill="#fff"/>
<path transform="translate(1318.39 1287.4) scale(1.05 1.05)" d="M-12.07 -2.29H-7.23V0.5H-12.07zM-4.6 -2.29H0.04V0.5H-4.6z" fill="#fff"/>
<path transform="translate(1357.94 1287.4) scale(1.05 1.05)" d="M-12.07 -2.29H-7.23V0.5H-12.07zM-4.6 -2.29H0.04V0.5H-4.6z" fill="#fff"/>
<path transform="translate(1397.49 1287.4) scale(1.05 1.05)" d="M-12.07 -2.29H-7.23V0.5H-12.07zM-4.6 -2.29H0.04V0.5H-4.6z" fill="#fff"/>
<path transform="translate(1202.35 759) scale(1.05 1.05)" d="M275.61 -2.29H280.45V0.5H275.61zM283.08 -2.29H287.72V0.5H283.08z" fill="#fff"/>
<path transform="translate(1860.3 943.1) scale(1.05 1.05)" d="M23.49 -2.29H28.33V0.5H23.49zM30.97 -2.29H35.6V0.5H30.97z" fill="#fff"/>
<path transform="translate(1860.3 988.2) scale(1.05 1.05)" d="M23.49 -2.29H28.33V0.5H23.49zM30.97 -2.29H35.6V0.5H30.97z" fill="#fff"/>
</g>
</svg>
</body></html>
